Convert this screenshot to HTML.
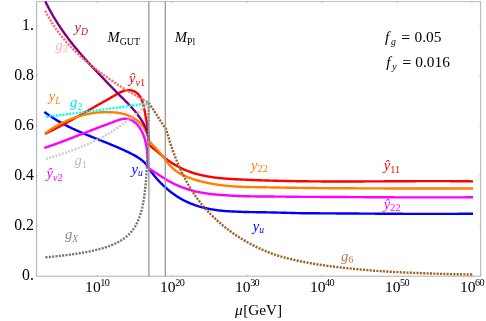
<!DOCTYPE html>
<html><head><meta charset="utf-8"><title>RG running</title>
<style>
html,body{margin:0;padding:0;background:#fff;}
body{width:486px;height:321px;overflow:hidden;position:relative;}
svg{display:block;will-change:transform;}
</style></head><body>
<svg width="486" height="321" viewBox="0 0 486 321" style="position:absolute;left:0;top:0">
<path d="M36.6,1.55V276.2H480.7V1.55" fill="none" stroke="#858585" stroke-width="0.65"/>
<path d="M36.6,1.55H480.7" fill="none" stroke="#999999" stroke-width="0.65"/>
<path d="M36.6,225.80h1.4 M480.7,225.80h-1.4 M36.6,175.80h1.4 M480.7,175.80h-1.4 M36.6,125.80h1.4 M480.7,125.80h-1.4 M36.6,75.80h1.4 M480.7,75.80h-1.4 M36.6,25.80h1.4 M480.7,25.80h-1.4 M97.20,276.2v-1.4 M97.20,1.55v1.4 M172.17,276.2v-1.4 M172.17,1.55v1.4 M247.14,276.2v-1.4 M247.14,1.55v1.4 M322.11,276.2v-1.4 M322.11,1.55v1.4 M397.08,276.2v-1.4 M397.08,1.55v1.4 M472.05,276.2v-1.4 M472.05,1.55v1.4" stroke="#8a8a8a" stroke-width="0.5" fill="none"/>
<path d="M44.37,111.88 L44.78,112.19 L45.18,112.50 L45.59,112.80 L46.00,113.11 L46.41,113.41 L46.82,113.71 L47.24,114.00 L47.65,114.30 L48.07,114.59 L48.48,114.89 L48.90,115.18 L49.31,115.46 L49.73,115.75 L50.15,116.03 L50.57,116.32 L50.99,116.60 L51.41,116.88 L51.84,117.16 L52.26,117.43 L52.68,117.71 L53.11,117.98 L53.54,118.25 L53.96,118.52 L54.39,118.79 L54.82,119.05 L55.25,119.32 L55.68,119.58 L56.11,119.84 L56.54,120.10 L56.97,120.36 L57.41,120.61 L57.84,120.87 L58.28,121.12 L58.71,121.37 L59.15,121.63 L59.58,121.87 L60.02,122.12 L60.46,122.37 L60.90,122.61 L61.34,122.86 L61.78,123.10 L62.22,123.34 L62.66,123.58 L63.11,123.82 L63.55,124.06 L63.99,124.29 L64.44,124.53 L64.88,124.76 L65.33,124.99 L65.78,125.22 L66.22,125.45 L66.67,125.68 L67.12,125.91 L67.57,126.13 L68.02,126.36 L68.47,126.58 L68.92,126.81 L69.37,127.03 L69.82,127.25 L70.27,127.47 L70.72,127.69 L71.18,127.90 L71.63,128.12 L72.09,128.34 L72.54,128.55 L72.99,128.77 L73.45,128.98 L73.91,129.19 L74.36,129.40 L74.82,129.61 L75.28,129.82 L75.74,130.03 L76.19,130.24 L76.65,130.44 L77.11,130.65 L77.57,130.86 L78.03,131.06 L78.49,131.26 L78.95,131.47 L79.41,131.67 L79.87,131.87 L80.34,132.07 L80.80,132.27 L81.26,132.47 L81.72,132.67 L82.19,132.87 L82.65,133.07 L83.11,133.26 L83.58,133.46 L84.04,133.66 L84.51,133.85 L84.97,134.05 L85.44,134.24 L85.90,134.44 L86.37,134.63 L86.83,134.82 L87.30,135.02 L87.76,135.21 L88.23,135.40 L88.70,135.59 L89.16,135.78 L89.63,135.97 L90.10,136.16 L90.57,136.35 L91.03,136.54 L91.50,136.73 L91.97,136.92 L92.44,137.11 L92.90,137.30 L93.37,137.49 L93.84,137.68 L94.31,137.87 L94.78,138.05 L95.25,138.24 L95.71,138.43 L96.18,138.62 L96.65,138.81 L97.12,138.99 L97.59,139.18 L98.06,139.37 L98.53,139.55 L99.00,139.74 L99.47,139.93 L99.93,140.12 L100.40,140.30 L100.87,140.49 L101.34,140.68 L101.81,140.87 L102.28,141.05 L102.75,141.24 L103.22,141.43 L103.69,141.62 L104.15,141.80 L104.62,141.99 L105.09,142.18 L105.56,142.37 L106.03,142.56 L106.50,142.75 L106.96,142.94 L107.43,143.13 L107.90,143.32 L108.37,143.51 L108.83,143.70 L109.30,143.89 L109.77,144.08 L110.23,144.27 L110.70,144.46 L111.17,144.65 L111.63,144.85 L112.10,145.04 L112.57,145.23 L113.03,145.43 L113.50,145.62 L113.96,145.82 L114.43,146.01 L114.89,146.21 L115.36,146.41 L115.82,146.60 L116.28,146.80 L116.75,147.00 L117.21,147.20 L117.67,147.40 L118.14,147.60 L118.60,147.80 L119.06,148.00 L119.52,148.20 L119.98,148.41 L120.44,148.61 L120.90,148.81 L121.36,149.02 L121.82,149.23 L122.28,149.43 L122.74,149.64 L123.20,149.85 L123.66,150.06 L124.12,150.27 L124.57,150.48 L125.03,150.69 L125.49,150.90 L125.94,151.12 L126.40,151.33 L126.85,151.55 L127.31,151.77 L127.76,151.98 L128.21,152.20 L128.67,152.42 L129.12,152.64 L129.57,152.86 L130.02,153.09 L130.47,153.31 L130.92,153.54 L131.37,153.76 L131.82,153.99 L132.27,154.22 L132.71,154.45 L133.16,154.69 L133.60,154.92 L134.04,155.16 L134.48,155.40 L134.92,155.64 L135.36,155.89 L135.79,156.14 L136.22,156.39 L136.65,156.64 L137.08,156.90 L137.50,157.16 L137.93,157.42 L138.34,157.69 L138.76,157.96 L139.17,158.24 L139.58,158.52 L139.99,158.80 L140.39,159.09 L140.79,159.38 L141.18,159.68 L141.57,159.98 L141.96,160.29 L142.34,160.60 L142.72,160.92 L143.09,161.24 L143.46,161.57 L143.82,161.90 L144.18,162.24 L144.54,162.59 L144.89,162.94 L145.23,163.30 L145.57,163.66 L145.90,164.03 L146.23,164.41 L146.55,164.79 L146.87,165.18 L147.18,165.58 L147.48,165.98 L147.78,166.39 L148.07,166.81 L148.35,167.24 L148.63,167.68 L148.90,168.12 L149.16,168.57" fill="none" stroke="#0000ff" stroke-width="2.4"/>
<path d="M148.98,168.85 L149.48,169.53 L149.98,170.22 L150.49,170.90 L151.00,171.57 L151.52,172.25 L152.04,172.92 L152.57,173.59 L153.10,174.25 L153.64,174.92 L154.18,175.58 L154.72,176.23 L155.27,176.89 L155.82,177.54 L156.38,178.18 L156.95,178.83 L157.52,179.47 L158.09,180.10 L158.67,180.73 L159.25,181.36 L159.84,181.98 L160.43,182.60 L161.02,183.21 L161.62,183.82 L162.23,184.42 L162.84,185.02 L163.46,185.61 L164.08,186.20 L164.70,186.78 L165.33,187.36 L165.96,187.93 L166.60,188.50 L167.24,189.06 L167.89,189.61 L168.54,190.16 L169.20,190.70 L169.86,191.24 L170.53,191.76 L171.20,192.29 L171.88,192.80 L172.56,193.31 L173.24,193.81 L173.93,194.31 L174.63,194.79 L175.33,195.27 L176.03,195.74 L176.74,196.21 L177.45,196.67 L178.17,197.12 L178.89,197.56 L179.62,198.00 L180.34,198.43 L181.08,198.86 L181.81,199.27 L182.55,199.68 L183.30,200.08 L184.04,200.48 L184.79,200.87 L185.55,201.23 L186.30,201.59 L187.06,201.94 L187.83,202.28 L188.59,202.62 L189.36,202.95 L190.13,203.27 L190.91,203.58 L191.68,203.89 L192.46,204.19 L193.25,204.48 L194.03,204.77 L194.82,205.05 L195.60,205.32 L196.40,205.58 L197.19,205.84 L197.98,206.09 L198.78,206.34 L199.58,206.57 L200.38,206.80 L201.18,207.03 L201.98,207.25 L202.79,207.46 L203.59,207.66 L204.40,207.86 L205.21,208.05 L206.02,208.24 L206.84,208.42 L207.65,208.59 L208.47,208.76 L209.28,208.92 L210.10,209.08 L210.92,209.23 L211.74,209.37 L212.57,209.51 L213.39,209.65 L214.22,209.78 L215.05,209.90 L215.87,210.02 L216.70,210.14 L217.53,210.25 L218.37,210.35 L219.20,210.45 L220.03,210.55 L220.87,210.64 L221.71,210.72 L222.54,210.80 L223.38,210.88 L224.22,210.96 L225.06,211.03 L225.90,211.09 L226.75,211.15 L227.59,211.21 L228.43,211.26 L229.28,211.31 L230.12,211.36 L230.97,211.40 L231.82,211.44 L232.67,211.48 L233.52,211.51 L234.37,211.54 L235.22,211.57 L236.07,211.60 L236.92,211.65 L237.77,211.69 L238.62,211.73 L239.48,211.77 L240.33,211.81 L241.19,211.85 L242.04,211.88 L242.90,211.91 L243.75,211.94 L244.61,211.97 L245.46,211.99 L246.32,212.02 L247.18,212.04 L248.04,212.06 L248.89,212.07 L249.75,212.09 L250.61,212.11 L251.47,212.12 L252.33,212.13 L253.18,212.14 L254.04,212.15 L254.90,212.16 L255.76,212.17 L256.62,212.18 L257.48,212.19 L258.34,212.19 L259.20,212.20 L260.06,212.21 L260.92,212.21 L261.77,212.22 L262.63,212.23 L263.49,212.25 L264.35,212.27 L265.21,212.29 L266.06,212.31 L266.92,212.33 L267.78,212.35 L268.64,212.37 L269.49,212.39 L270.35,212.41 L271.21,212.43 L272.06,212.45 L272.92,212.47 L273.77,212.49 L274.63,212.52 L275.49,212.54 L276.34,212.56 L277.20,212.58 L278.05,212.60 L278.90,212.62 L279.76,212.64 L280.61,212.67 L281.47,212.69 L282.32,212.71 L283.17,212.73 L284.03,212.75 L284.88,212.78 L285.73,212.80 L286.59,212.82 L287.44,212.85 L288.29,212.87 L289.14,212.89 L290.00,212.91 L290.85,212.94 L291.70,212.96 L292.55,212.98 L293.40,213.01 L294.25,213.03 L295.10,213.05 L295.96,213.08 L296.81,213.10 L297.66,213.13 L298.51,213.15 L299.36,213.17 L300.21,213.20 L301.06,213.22 L301.91,213.25 L302.76,213.25 L303.61,213.25 L304.46,213.26 L305.31,213.26 L306.15,213.26 L307.00,213.27 L307.85,213.27 L308.70,213.28 L309.55,213.28 L310.40,213.28 L311.25,213.29 L312.09,213.29 L312.94,213.29 L313.79,213.30 L314.64,213.30 L315.49,213.31 L316.33,213.31 L317.18,213.32 L318.03,213.32 L318.87,213.32 L319.72,213.33 L320.57,213.33 L321.42,213.34 L322.26,213.34 L323.11,213.35 L323.96,213.35 L324.80,213.36 L325.65,213.36 L326.49,213.37 L327.34,213.37 L328.19,213.38 L329.03,213.38 L329.88,213.39 L330.72,213.39 L331.57,213.40 L332.42,213.40 L333.26,213.41 L334.11,213.41 L334.95,213.42 L335.80,213.42 L336.64,213.43 L337.49,213.43 L338.33,213.44 L339.18,213.44 L340.02,213.45 L340.87,213.45 L341.71,213.46 L342.56,213.47 L343.40,213.47 L344.25,213.48 L345.09,213.48 L345.93,213.49 L346.78,213.49 L347.62,213.50 L348.47,213.50 L349.31,213.51 L350.16,213.52 L351.00,213.52 L351.84,213.53 L352.69,213.53 L353.53,213.54 L354.38,213.54 L355.22,213.55 L356.06,213.55 L356.91,213.56 L357.75,213.57 L358.60,213.57 L359.44,213.58 L360.28,213.58 L361.13,213.59 L361.97,213.59 L362.82,213.60 L363.66,213.60 L364.50,213.61 L365.35,213.62 L366.19,213.62 L367.03,213.63 L367.88,213.63 L368.72,213.64 L369.57,213.64 L370.41,213.65 L371.25,213.65 L372.10,213.66 L372.94,213.66 L373.78,213.67 L374.63,213.67 L375.47,213.68 L376.31,213.68 L377.16,213.69 L378.00,213.70 L378.85,213.70 L379.69,213.71 L380.53,213.71 L381.38,213.72 L382.22,213.72 L383.06,213.72 L383.91,213.73 L384.75,213.73 L385.60,213.74 L386.44,213.74 L387.28,213.75 L388.13,213.75 L388.97,213.76 L389.82,213.76 L390.66,213.77 L391.50,213.77 L392.35,213.78 L393.19,213.78 L394.04,213.78 L394.88,213.79 L395.73,213.79 L396.57,213.80 L397.42,213.80 L398.26,213.80 L399.10,213.81 L399.95,213.81 L400.79,213.81 L401.64,213.82 L402.48,213.82 L403.33,213.83 L404.17,213.83 L405.02,213.83 L405.86,213.83 L406.71,213.84 L407.55,213.84 L408.40,213.84 L409.25,213.85 L410.09,213.85 L410.94,213.85 L411.78,213.85 L412.63,213.86 L413.47,213.86 L414.32,213.86 L415.17,213.86 L416.01,213.87 L416.86,213.87 L417.71,213.87 L418.55,213.87 L419.40,213.87 L420.25,213.88 L421.09,213.88 L421.94,213.88 L422.79,213.88 L423.63,213.88 L424.48,213.88 L425.33,213.88 L426.18,213.88 L427.02,213.88 L427.87,213.89 L428.72,213.89 L429.57,213.89 L430.42,213.89 L431.26,213.89 L432.11,213.89 L432.96,213.89 L433.81,213.89 L434.66,213.89 L435.51,213.89 L436.36,213.89 L437.21,213.88 L438.06,213.88 L438.90,213.88 L439.75,213.88 L440.60,213.88 L441.45,213.88 L442.30,213.88 L443.15,213.88 L444.01,213.87 L444.86,213.87 L445.71,213.87 L446.56,213.87 L447.41,213.87 L448.26,213.86 L449.11,213.86 L449.96,213.86 L450.81,213.86 L451.67,213.85 L452.52,213.85 L453.37,213.85 L454.22,213.84 L455.08,213.84 L455.93,213.83 L456.78,213.83 L457.64,213.83 L458.49,213.82 L459.34,213.82 L460.20,213.81 L461.05,213.81 L461.90,213.80 L462.76,213.80 L463.61,213.79 L464.47,213.79 L465.32,213.78 L466.18,213.78 L467.03,213.77 L467.89,213.76 L468.74,213.76 L469.60,213.75 L470.46,213.74 L471.31,213.74 L472.17,213.73 L473.03,213.72" fill="none" stroke="#0000ff" stroke-width="2.4"/>
<path d="M44.96,133.91 L45.57,133.61 L46.18,133.31 L46.78,133.00 L47.39,132.70 L47.99,132.39 L48.60,132.09 L49.20,131.78 L49.79,131.47 L50.39,131.18 L50.99,130.88 L51.58,130.59 L52.17,130.30 L52.76,130.00 L53.35,129.70 L53.94,129.41 L54.53,129.11 L55.12,128.81 L55.70,128.51 L56.28,128.21 L56.86,127.91 L57.45,127.61 L58.02,127.31 L58.60,127.01 L59.18,126.71 L59.76,126.40 L60.33,126.10 L60.91,125.80 L61.48,125.49 L62.05,125.19 L62.62,124.88 L63.19,124.57 L63.76,124.27 L64.33,123.96 L64.90,123.65 L65.46,123.34 L66.03,123.03 L66.60,122.72 L67.16,122.41 L67.72,122.10 L68.29,121.79 L68.85,121.48 L69.41,121.17 L69.97,120.86 L70.53,120.55 L71.10,120.24 L71.66,119.92 L72.22,119.61 L72.77,119.30 L73.33,118.98 L73.89,118.67 L74.45,118.36 L75.01,118.04 L75.57,117.73 L76.12,117.41 L76.68,117.10 L77.24,116.78 L77.80,116.47 L78.35,116.15 L78.91,115.84 L79.47,115.52 L80.02,115.21 L80.58,114.89 L81.14,114.57 L81.70,114.26 L82.25,113.94 L82.81,113.63 L83.37,113.31 L83.93,112.99 L84.48,112.68 L85.04,112.36 L85.60,112.05 L86.16,111.73 L86.72,111.41 L87.28,111.10 L87.84,110.78 L88.40,110.47 L88.96,110.15 L89.52,109.84 L90.08,109.52 L90.65,109.19 L91.21,108.86 L91.77,108.53 L92.34,108.20 L92.90,107.87 L93.47,107.54 L94.04,107.21 L94.60,106.88 L95.17,106.55 L95.74,106.22 L96.31,105.89 L96.88,105.56 L97.45,105.24 L98.03,104.91 L98.60,104.58 L99.18,104.25 L99.75,103.93 L100.33,103.60 L100.91,103.27 L101.49,102.95 L102.07,102.62 L102.65,102.30 L103.23,101.97 L103.82,101.65 L104.40,101.33 L104.99,101.00 L105.58,100.68 L106.17,100.36 L106.76,100.04 L107.35,99.72 L107.94,99.40 L108.54,99.04 L109.14,98.68 L109.73,98.32 L110.33,97.96 L110.94,97.60 L111.54,97.24 L112.14,96.88 L112.75,96.53 L113.36,96.17 L113.97,95.81 L114.58,95.46 L115.20,95.10 L115.81,94.75 L116.43,94.40 L117.05,94.05 L117.67,93.71 L118.29,93.38 L118.91,93.05 L119.53,92.74 L120.15,92.43 L120.77,92.13 L121.40,91.85 L122.02,91.58 L122.64,91.32 L123.26,91.08 L123.88,90.86 L124.50,90.68 L125.12,90.54 L125.74,90.41 L126.36,90.31 L126.97,90.22 L127.59,90.16 L128.20,90.12 L128.81,90.11 L129.42,90.13 L130.02,90.17 L130.63,90.24 L131.23,90.34 L131.82,90.47 L132.42,90.63 L133.01,90.83 L133.60,91.05 L134.17,91.31 L134.74,91.59 L135.29,91.90 L135.83,92.24 L136.36,92.60 L136.87,92.99 L137.35,93.40 L137.82,93.83 L138.26,94.29 L138.69,94.77 L139.09,95.26 L139.47,95.78 L139.84,96.32 L140.19,96.87 L140.52,97.43 L140.83,98.01 L141.13,98.61 L141.41,99.22 L141.67,99.84 L141.93,100.47 L142.17,101.11 L142.40,101.75 L142.61,102.41 L142.82,103.07 L143.01,103.74 L143.20,104.41 L143.37,105.09 L143.54,105.77 L143.70,106.45 L143.86,107.13 L144.01,107.81 L144.15,108.49 L144.29,109.17 L144.42,109.84 L144.55,110.51 L144.68,111.17 L144.81,111.83 L144.93,112.48 L145.05,113.13 L145.17,113.78 L145.29,114.42 L145.41,115.06 L145.52,115.69 L145.64,116.33 L145.75,116.96 L145.86,117.59 L145.97,118.23 L146.08,118.86 L146.19,119.49 L146.30,120.12 L146.41,120.75 L146.52,121.38 L146.63,122.02 L146.75,122.65 L146.86,123.29 L146.97,123.93 L147.08,124.57 L147.19,125.21 L147.29,125.85 L147.40,126.49 L147.51,127.14 L147.61,127.79 L147.71,128.43 L147.81,129.08 L147.91,129.73 L148.00,130.38 L148.09,131.03 L148.18,131.69 L148.26,132.34 L148.34,133.00 L148.42,133.65 L148.49,134.31 L148.56,134.96 L148.62,135.62 L148.67,136.28 L148.73,136.94 L148.77,137.60 L148.81,138.26 L148.85,138.92 L148.87,139.58 L148.89,140.24 L148.91,140.90 L148.92,141.56 L148.92,142.23 L148.91,142.89 L148.89,143.55 L148.87,144.21" fill="none" stroke="#ff0000" stroke-width="2.4"/>
<path d="M148.71,144.66 L149.37,145.16 L150.03,145.66 L150.69,146.17 L151.35,146.67 L152.01,147.18 L152.66,147.69 L153.32,148.21 L153.97,148.73 L154.61,149.25 L155.26,149.77 L155.90,150.31 L156.53,150.84 L157.16,151.39 L157.79,151.94 L158.42,152.49 L159.04,153.04 L159.67,153.60 L160.29,154.15 L160.92,154.70 L161.55,155.25 L162.19,155.79 L162.83,156.33 L163.48,156.86 L164.14,157.38 L164.79,157.90 L165.46,158.42 L166.12,158.92 L166.80,159.43 L167.47,159.92 L168.15,160.41 L168.84,160.90 L169.53,161.37 L170.23,161.84 L170.93,162.31 L171.63,162.77 L172.34,163.22 L173.05,163.67 L173.76,164.10 L174.48,164.54 L175.20,164.96 L175.93,165.38 L176.66,165.79 L177.39,166.20 L178.13,166.60 L178.87,166.99 L179.61,167.37 L180.36,167.75 L181.11,168.12 L181.86,168.48 L182.62,168.84 L183.38,169.19 L184.14,169.53 L184.90,169.86 L185.67,170.18 L186.43,170.50 L187.20,170.81 L187.98,171.11 L188.75,171.41 L189.53,171.70 L190.31,171.98 L191.09,172.25 L191.88,172.51 L192.66,172.77 L193.45,173.02 L194.24,173.27 L195.03,173.50 L195.82,173.73 L196.62,173.96 L197.42,174.18 L198.22,174.39 L199.02,174.59 L199.82,174.79 L200.62,174.99 L201.43,175.17 L202.24,175.35 L203.05,175.53 L203.86,175.70 L204.67,175.87 L205.48,176.03 L206.30,176.18 L207.12,176.33 L207.93,176.48 L208.75,176.62 L209.57,176.75 L210.39,176.88 L211.22,177.01 L212.04,177.13 L212.87,177.25 L213.69,177.36 L214.52,177.47 L215.35,177.58 L216.18,177.68 L217.01,177.78 L217.84,177.87 L218.67,177.96 L219.50,178.05 L220.34,178.13 L221.17,178.21 L222.01,178.29 L222.84,178.37 L223.68,178.44 L224.52,178.51 L225.35,178.58 L226.19,178.64 L227.03,178.70 L227.87,178.77 L228.71,178.82 L229.55,178.88 L230.39,178.93 L231.23,178.99 L232.07,179.04 L232.91,179.09 L233.75,179.13 L234.59,179.18 L235.44,179.23 L236.28,179.27 L237.12,179.31 L237.96,179.36 L238.80,179.40 L239.64,179.44 L240.49,179.48 L241.33,179.52 L242.17,179.56 L243.01,179.60 L243.85,179.64 L244.69,179.67 L245.53,179.71 L246.37,179.75 L247.21,179.79 L248.05,179.82 L248.90,179.86 L249.74,179.89 L250.58,179.93 L251.42,179.96 L252.26,179.99 L253.10,180.03 L253.94,180.06 L254.78,180.09 L255.62,180.12 L256.46,180.16 L257.30,180.19 L258.13,180.22 L258.97,180.25 L259.81,180.28 L260.65,180.31 L261.49,180.33 L262.33,180.36 L263.17,180.39 L264.01,180.42 L264.85,180.44 L265.69,180.47 L266.53,180.50 L267.36,180.52 L268.20,180.55 L269.04,180.57 L269.88,180.60 L270.72,180.62 L271.56,180.64 L272.39,180.67 L273.23,180.69 L274.07,180.71 L274.91,180.73 L275.75,180.76 L276.58,180.78 L277.42,180.80 L278.26,180.82 L279.10,180.84 L279.93,180.86 L280.77,180.88 L281.61,180.90 L282.45,180.92 L283.28,180.93 L284.12,180.95 L284.96,180.97 L285.79,180.99 L286.63,181.00 L287.47,181.02 L288.30,181.04 L289.14,181.05 L289.98,181.07 L290.81,181.08 L291.65,181.10 L292.49,181.11 L293.32,181.12 L294.16,181.14 L295.00,181.15 L295.83,181.16 L296.67,181.18 L297.51,181.19 L298.34,181.20 L299.18,181.21 L300.01,181.23 L300.85,181.24 L301.69,181.25 L302.52,181.26 L303.36,181.27 L304.19,181.28 L305.03,181.29 L305.86,181.30 L306.70,181.31 L307.54,181.32 L308.37,181.32 L309.21,181.33 L310.04,181.34 L310.88,181.35 L311.71,181.36 L312.55,181.36 L313.38,181.37 L314.22,181.38 L315.05,181.38 L315.89,181.39 L316.72,181.40 L317.56,181.40 L318.39,181.41 L319.23,181.41 L320.07,181.42 L320.90,181.42 L321.73,181.43 L322.57,181.43 L323.40,181.44 L324.24,181.44 L325.07,181.44 L325.91,181.45 L326.74,181.45 L327.58,181.45 L328.41,181.46 L329.25,181.46 L330.08,181.46 L330.92,181.46 L331.75,181.47 L332.59,181.47 L333.42,181.47 L334.26,181.47 L335.09,181.47 L335.92,181.47 L336.76,181.47 L337.59,181.47 L338.43,181.48 L339.26,181.48 L340.10,181.48 L340.93,181.48 L341.77,181.48 L342.60,181.48 L343.43,181.47 L344.27,181.47 L345.10,181.47 L345.94,181.47 L346.77,181.47 L347.60,181.47 L348.44,181.47 L349.27,181.47 L350.11,181.47 L350.94,181.46 L351.78,181.46 L352.61,181.46 L353.44,181.46 L354.28,181.46 L355.11,181.45 L355.95,181.45 L356.78,181.45 L357.62,181.45 L358.45,181.44 L359.28,181.44 L360.12,181.44 L360.95,181.44 L361.79,181.43 L362.62,181.43 L363.45,181.43 L364.29,181.42 L365.12,181.42 L365.96,181.42 L366.79,181.41 L367.63,181.41 L368.46,181.40 L369.29,181.40 L370.13,181.40 L370.96,181.39 L371.80,181.39 L372.63,181.39 L373.46,181.38 L374.30,181.38 L375.13,181.37 L375.97,181.37 L376.80,181.36 L377.64,181.36 L378.47,181.36 L379.30,181.35 L380.14,181.35 L380.97,181.34 L381.81,181.34 L382.64,181.33 L383.48,181.33 L384.31,181.32 L385.15,181.32 L385.98,181.32 L386.81,181.31 L387.65,181.31 L388.48,181.30 L389.32,181.30 L390.15,181.29 L390.99,181.29 L391.82,181.28 L392.66,181.28 L393.49,181.28 L394.33,181.27 L395.16,181.27 L396.00,181.26 L396.83,181.26 L397.67,181.25 L398.50,181.25 L399.34,181.24 L400.17,181.24 L401.01,181.24 L401.84,181.23 L402.68,181.23 L403.51,181.22 L404.35,181.22 L405.18,181.22 L406.02,181.21 L406.85,181.21 L407.69,181.21 L408.52,181.20 L409.36,181.20 L410.19,181.19 L411.03,181.19 L411.86,181.19 L412.70,181.18 L413.53,181.18 L414.37,181.18 L415.21,181.18 L416.04,181.17 L416.88,181.17 L417.71,181.17 L418.55,181.16 L419.39,181.16 L420.22,181.16 L421.06,181.16 L421.89,181.16 L422.73,181.15 L423.57,181.15 L424.40,181.15 L425.24,181.15 L426.07,181.15 L426.91,181.15 L427.75,181.14 L428.58,181.14 L429.42,181.14 L430.26,181.14 L431.09,181.14 L431.93,181.14 L432.77,181.14 L433.60,181.14 L434.44,181.14 L435.28,181.14 L436.12,181.14 L436.95,181.14 L437.79,181.14 L438.63,181.14 L439.46,181.14 L440.30,181.14 L441.14,181.15 L441.98,181.15 L442.81,181.15 L443.65,181.15 L444.49,181.15 L445.33,181.16 L446.17,181.16 L447.00,181.16 L447.84,181.16 L448.68,181.17 L449.52,181.17 L450.36,181.17 L451.19,181.18 L452.03,181.18 L452.87,181.19 L453.71,181.19 L454.55,181.20 L455.39,181.20 L456.23,181.21 L457.07,181.21 L457.90,181.22 L458.74,181.22 L459.58,181.23 L460.42,181.24 L461.26,181.24 L462.10,181.25 L462.94,181.26 L463.78,181.26 L464.62,181.27 L465.46,181.28 L466.30,181.29 L467.14,181.30 L467.98,181.31 L468.82,181.31 L469.66,181.32 L470.50,181.33 L471.34,181.34 L472.18,181.35 L473.02,181.36" fill="none" stroke="#ff0000" stroke-width="2.4"/>
<path d="M45.15,133.34 L45.54,133.05 L45.94,132.75 L46.34,132.46 L46.75,132.17 L47.15,131.87 L47.55,131.58 L47.96,131.30 L48.37,131.01 L48.78,130.72 L49.20,130.44 L49.61,130.15 L50.03,129.87 L50.44,129.60 L50.86,129.33 L51.28,129.06 L51.71,128.79 L52.13,128.53 L52.56,128.26 L52.98,128.00 L53.41,127.74 L53.84,127.48 L54.28,127.22 L54.71,126.96 L55.14,126.71 L55.58,126.46 L56.02,126.20 L56.46,125.95 L56.90,125.70 L57.34,125.46 L57.79,125.21 L58.23,124.97 L58.68,124.73 L59.12,124.49 L59.57,124.25 L60.02,124.01 L60.48,123.78 L60.93,123.54 L61.38,123.31 L61.84,123.08 L62.30,122.85 L62.76,122.63 L63.22,122.40 L63.68,122.18 L64.14,121.96 L64.60,121.74 L65.07,121.53 L65.53,121.31 L66.00,121.10 L66.47,120.89 L66.93,120.69 L67.40,120.48 L67.88,120.28 L68.35,120.07 L68.82,119.88 L69.29,119.68 L69.77,119.48 L70.25,119.29 L70.72,119.10 L71.20,118.91 L71.68,118.73 L72.16,118.54 L72.64,118.36 L73.12,118.18 L73.61,118.01 L74.09,117.83 L74.57,117.66 L75.06,117.49 L75.54,117.32 L76.03,117.16 L76.52,117.00 L77.01,116.84 L77.50,116.68 L77.99,116.53 L78.48,116.37 L78.97,116.22 L79.46,116.08 L79.95,115.93 L80.45,115.79 L80.94,115.65 L81.44,115.52 L81.93,115.38 L82.43,115.25 L82.92,115.13 L83.42,115.00 L83.92,114.88 L84.42,114.76 L84.92,114.64 L85.42,114.53 L85.92,114.42 L86.42,114.31 L86.92,114.20 L87.42,114.10 L87.92,114.00 L88.42,113.91 L88.93,113.81 L89.43,113.72 L89.93,113.63 L90.44,113.54 L90.94,113.45 L91.44,113.35 L91.95,113.27 L92.45,113.18 L92.96,113.10 L93.46,113.02 L93.97,112.95 L94.48,112.88 L94.98,112.81 L95.49,112.74 L96.00,112.68 L96.50,112.62 L97.01,112.57 L97.52,112.51 L98.02,112.47 L98.53,112.42 L99.04,112.38 L99.55,112.34 L100.06,112.30 L100.56,112.27 L101.07,112.24 L101.58,112.22 L102.09,112.20 L102.59,112.18 L103.10,112.17 L103.61,112.16 L104.12,112.15 L104.63,112.15 L105.13,112.15 L105.64,112.15 L106.15,112.16 L106.66,112.17 L107.16,112.18 L107.67,112.20 L108.18,112.21 L108.68,112.21 L109.19,112.21 L109.70,112.21 L110.20,112.22 L110.71,112.23 L111.21,112.24 L111.72,112.26 L112.22,112.28 L112.73,112.31 L113.23,112.34 L113.74,112.37 L114.24,112.41 L114.74,112.45 L115.25,112.50 L115.75,112.55 L116.25,112.60 L116.75,112.66 L117.25,112.72 L117.75,112.79 L118.25,112.86 L118.75,112.93 L119.25,113.01 L119.75,113.10 L120.25,113.18 L120.75,113.28 L121.24,113.37 L121.74,113.47 L122.23,113.58 L122.73,113.69 L123.22,113.80 L123.72,113.92 L124.21,114.06 L124.70,114.22 L125.19,114.38 L125.68,114.55 L126.17,114.72 L126.65,114.90 L127.13,115.08 L127.62,115.27 L128.09,115.46 L128.57,115.66 L129.05,115.86 L129.52,116.07 L129.99,116.28 L130.45,116.50 L130.92,116.72 L131.38,116.95 L131.83,117.18 L132.29,117.42 L132.74,117.66 L133.18,117.91 L133.62,118.17 L134.06,118.43 L134.50,118.70 L134.93,118.97 L135.35,119.25 L135.77,119.53 L136.19,119.82 L136.60,120.12 L137.01,120.42 L137.41,120.72 L137.81,121.04 L138.20,121.36 L138.58,121.68 L138.96,122.01 L139.34,122.35 L139.71,122.70 L140.07,123.05 L140.42,123.41 L140.77,123.77 L141.12,124.14 L141.45,124.52 L141.78,124.90 L142.11,125.29 L142.42,125.69 L142.73,126.09 L143.03,126.50 L143.33,126.92 L143.61,127.34 L143.89,127.77 L144.16,128.21 L144.43,128.65 L144.68,129.10 L144.93,129.56 L145.17,130.02 L145.41,130.49 L145.64,130.96 L145.86,131.43 L146.07,131.91 L146.28,132.39 L146.48,132.88 L146.67,133.37 L146.85,133.86 L147.03,134.36 L147.21,134.86 L147.37,135.36 L147.53,135.86 L147.69,136.37 L147.83,136.87 L147.98,137.38 L148.11,137.89 L148.24,138.40 L148.36,138.91 L148.48,139.42 L148.59,139.93 L148.69,140.44" fill="none" stroke="#ff8000" stroke-width="2.4"/>
<path d="M148.72,140.55 L149.27,141.21 L149.83,141.85 L150.39,142.49 L150.95,143.12 L151.53,143.74 L152.10,144.36 L152.68,144.97 L153.27,145.58 L153.85,146.19 L154.43,146.80 L155.02,147.41 L155.60,148.02 L156.19,148.63 L156.77,149.25 L157.35,149.87 L157.92,150.50 L158.49,151.13 L159.05,151.78 L159.61,152.43 L160.16,153.09 L160.70,153.76 L161.25,154.44 L161.78,155.12 L162.32,155.81 L162.85,156.50 L163.38,157.20 L163.91,157.89 L164.44,158.59 L164.97,159.29 L165.50,159.98 L166.03,160.67 L166.57,161.36 L167.11,162.05 L167.66,162.72 L168.21,163.39 L168.77,164.06 L169.33,164.71 L169.90,165.36 L170.48,165.99 L171.07,166.61 L171.67,167.22 L172.28,167.81 L172.90,168.39 L173.53,168.95 L174.17,169.49 L174.83,170.02 L175.49,170.54 L176.17,171.04 L176.86,171.52 L177.55,171.99 L178.26,172.45 L178.97,172.89 L179.69,173.32 L180.43,173.74 L181.17,174.15 L181.91,174.54 L182.67,174.93 L183.43,175.30 L184.19,175.66 L184.97,176.01 L185.74,176.35 L186.53,176.68 L187.31,177.00 L188.11,177.32 L188.90,177.62 L189.70,177.92 L190.51,178.21 L191.31,178.49 L192.12,178.76 L192.93,179.03 L193.75,179.29 L194.56,179.55 L195.37,179.80 L196.19,180.04 L197.01,180.28 L197.83,180.52 L198.65,180.75 L199.47,180.97 L200.29,181.19 L201.11,181.40 L201.94,181.61 L202.76,181.82 L203.59,182.01 L204.41,182.21 L205.24,182.40 L206.07,182.58 L206.90,182.76 L207.73,182.93 L208.56,183.10 L209.39,183.27 L210.23,183.43 L211.06,183.59 L211.90,183.74 L212.73,183.89 L213.57,184.03 L214.41,184.17 L215.25,184.31 L216.09,184.44 L216.93,184.57 L217.77,184.70 L218.61,184.82 L219.45,184.94 L220.29,185.05 L221.14,185.16 L221.98,185.27 L222.83,185.37 L223.67,185.47 L224.52,185.56 L225.36,185.66 L226.21,185.75 L227.06,185.84 L227.91,185.92 L228.76,186.00 L229.61,186.08 L230.46,186.15 L231.31,186.21 L232.16,186.28 L233.01,186.34 L233.86,186.39 L234.71,186.45 L235.57,186.50 L236.42,186.55 L237.28,186.59 L238.13,186.64 L238.98,186.68 L239.84,186.72 L240.69,186.76 L241.55,186.80 L242.41,186.83 L243.26,186.86 L244.12,186.89 L244.97,186.92 L245.83,186.95 L246.69,186.98 L247.55,187.00 L248.40,187.02 L249.26,187.04 L250.12,187.06 L250.98,187.08 L251.84,187.10 L252.69,187.12 L253.55,187.13 L254.41,187.15 L255.27,187.16 L256.13,187.17 L256.99,187.18 L257.84,187.19 L258.70,187.20 L259.56,187.21 L260.42,187.22 L261.28,187.23 L262.14,187.24 L263.00,187.26 L263.86,187.28 L264.71,187.30 L265.57,187.31 L266.43,187.33 L267.29,187.35 L268.15,187.36 L269.00,187.38 L269.86,187.40 L270.72,187.41 L271.58,187.43 L272.43,187.45 L273.29,187.46 L274.15,187.48 L275.01,187.49 L275.86,187.51 L276.72,187.52 L277.58,187.54 L278.43,187.55 L279.29,187.57 L280.15,187.58 L281.00,187.60 L281.86,187.61 L282.71,187.63 L283.57,187.64 L284.43,187.65 L285.28,187.67 L286.14,187.68 L286.99,187.70 L287.85,187.71 L288.71,187.72 L289.56,187.74 L290.42,187.75 L291.27,187.76 L292.13,187.77 L292.98,187.79 L293.84,187.80 L294.69,187.81 L295.55,187.82 L296.40,187.84 L297.26,187.85 L298.11,187.86 L298.97,187.87 L299.82,187.88 L300.68,187.89 L301.53,187.91 L302.39,187.92 L303.24,187.93 L304.09,187.94 L304.95,187.95 L305.80,187.95 L306.66,187.96 L307.51,187.97 L308.36,187.98 L309.22,187.99 L310.07,188.00 L310.92,188.01 L311.78,188.02 L312.63,188.03 L313.49,188.04 L314.34,188.04 L315.19,188.05 L316.05,188.06 L316.90,188.07 L317.75,188.08 L318.61,188.08 L319.46,188.09 L320.31,188.10 L321.16,188.11 L322.02,188.11 L322.87,188.12 L323.72,188.13 L324.58,188.14 L325.43,188.14 L326.28,188.15 L327.13,188.16 L327.99,188.16 L328.84,188.17 L329.69,188.18 L330.54,188.18 L331.40,188.19 L332.25,188.19 L333.10,188.20 L333.95,188.21 L334.81,188.21 L335.66,188.22 L336.51,188.22 L337.36,188.23 L338.21,188.23 L339.07,188.24 L339.92,188.25 L340.77,188.25 L341.62,188.26 L342.48,188.26 L343.33,188.27 L344.18,188.27 L345.03,188.28 L345.88,188.28 L346.73,188.28 L347.59,188.29 L348.44,188.29 L349.29,188.30 L350.14,188.30 L350.99,188.31 L351.85,188.31 L352.70,188.32 L353.55,188.32 L354.40,188.32 L355.25,188.33 L356.10,188.33 L356.96,188.33 L357.81,188.34 L358.66,188.34 L359.51,188.35 L360.36,188.35 L361.21,188.35 L362.06,188.36 L362.92,188.36 L363.77,188.36 L364.62,188.37 L365.47,188.37 L366.32,188.37 L367.17,188.37 L368.03,188.38 L368.88,188.38 L369.73,188.38 L370.58,188.39 L371.43,188.39 L372.28,188.39 L373.13,188.39 L373.99,188.40 L374.84,188.40 L375.69,188.40 L376.54,188.40 L377.39,188.41 L378.24,188.41 L379.09,188.41 L379.95,188.41 L380.80,188.41 L381.65,188.42 L382.50,188.42 L383.35,188.42 L384.20,188.42 L385.06,188.42 L385.91,188.43 L386.76,188.43 L387.61,188.43 L388.46,188.43 L389.31,188.43 L390.17,188.43 L391.02,188.43 L391.87,188.44 L392.72,188.44 L393.57,188.44 L394.42,188.44 L395.28,188.44 L396.13,188.44 L396.98,188.44 L397.83,188.45 L398.68,188.45 L399.54,188.45 L400.39,188.45 L401.24,188.45 L402.09,188.45 L402.94,188.45 L403.80,188.45 L404.65,188.46 L405.50,188.46 L406.35,188.46 L407.20,188.46 L408.06,188.46 L408.91,188.46 L409.76,188.46 L410.61,188.46 L411.47,188.46 L412.32,188.46 L413.17,188.46 L414.02,188.47 L414.88,188.47 L415.73,188.47 L416.58,188.47 L417.44,188.47 L418.29,188.47 L419.14,188.47 L419.99,188.47 L420.85,188.47 L421.70,188.47 L422.55,188.47 L423.41,188.47 L424.26,188.47 L425.11,188.48 L425.97,188.48 L426.82,188.48 L427.67,188.48 L428.53,188.48 L429.38,188.48 L430.23,188.48 L431.09,188.48 L431.94,188.48 L432.80,188.48 L433.65,188.48 L434.50,188.48 L435.36,188.48 L436.21,188.48 L437.07,188.48 L437.92,188.49 L438.77,188.49 L439.63,188.49 L440.48,188.49 L441.34,188.49 L442.19,188.49 L443.05,188.49 L443.90,188.49 L444.76,188.49 L445.61,188.49 L446.47,188.49 L447.32,188.49 L448.18,188.50 L449.03,188.50 L449.89,188.50 L450.74,188.50 L451.60,188.50 L452.45,188.50 L453.31,188.50 L454.16,188.50 L455.02,188.50 L455.88,188.50 L456.73,188.51 L457.59,188.51 L458.44,188.51 L459.30,188.51 L460.16,188.51 L461.01,188.51 L461.87,188.51 L462.73,188.51 L463.58,188.51 L464.44,188.52 L465.30,188.52 L466.15,188.52 L467.01,188.52 L467.87,188.52 L468.72,188.52 L469.58,188.53 L470.44,188.53 L471.30,188.53 L472.16,188.53 L473.01,188.53" fill="none" stroke="#ff8000" stroke-width="2.4"/>
<path d="M44.28,147.97 L44.86,147.77 L45.45,147.57 L46.03,147.37 L46.61,147.17 L47.19,146.96 L47.77,146.76 L48.35,146.55 L48.93,146.34 L49.50,146.13 L50.08,145.92 L50.66,145.73 L51.23,145.54 L51.80,145.34 L52.38,145.14 L52.95,144.94 L53.52,144.75 L54.09,144.55 L54.66,144.34 L55.23,144.14 L55.80,143.94 L56.37,143.74 L56.94,143.53 L57.51,143.33 L58.07,143.12 L58.64,142.91 L59.21,142.71 L59.77,142.50 L60.34,142.29 L60.90,142.08 L61.47,141.87 L62.03,141.66 L62.59,141.45 L63.15,141.24 L63.72,141.02 L64.28,140.81 L64.84,140.60 L65.40,140.38 L65.96,140.17 L66.52,139.96 L67.08,139.74 L67.64,139.52 L68.20,139.31 L68.76,139.09 L69.32,138.88 L69.88,138.66 L70.44,138.44 L71.00,138.22 L71.55,138.01 L72.11,137.79 L72.67,137.57 L73.23,137.35 L73.79,137.14 L74.34,136.92 L74.90,136.70 L75.46,136.48 L76.02,136.26 L76.57,136.04 L77.13,135.83 L77.69,135.61 L78.25,135.39 L78.81,135.17 L79.36,134.95 L79.92,134.73 L80.48,134.52 L81.04,134.30 L81.60,134.08 L82.15,133.86 L82.71,133.65 L83.27,133.43 L83.83,133.21 L84.39,133.00 L84.95,132.78 L85.51,132.57 L86.07,132.35 L86.63,132.14 L87.19,131.92 L87.75,131.71 L88.31,131.50 L88.87,131.28 L89.44,131.07 L90.00,130.86 L90.56,130.63 L91.12,130.40 L91.69,130.18 L92.25,129.95 L92.82,129.73 L93.38,129.50 L93.95,129.28 L94.51,129.05 L95.08,128.83 L95.65,128.61 L96.22,128.39 L96.78,128.17 L97.35,127.95 L97.92,127.73 L98.49,127.51 L99.07,127.30 L99.64,127.08 L100.21,126.86 L100.78,126.65 L101.36,126.44 L101.93,126.23 L102.51,126.01 L103.08,125.81 L103.66,125.60 L104.24,125.39 L104.82,125.18 L105.40,124.98 L105.98,124.77 L106.56,124.57 L107.14,124.37 L107.72,124.17 L108.31,123.95 L108.89,123.70 L109.48,123.46 L110.07,123.22 L110.65,122.99 L111.24,122.75 L111.83,122.51 L112.42,122.28 L113.02,122.05 L113.61,121.82 L114.20,121.59 L114.80,121.36 L115.40,121.13 L115.99,120.91 L116.59,120.69 L117.19,120.48 L117.79,120.27 L118.38,120.07 L118.98,119.88 L119.58,119.70 L120.17,119.53 L120.77,119.37 L121.36,119.22 L121.95,119.08 L122.54,118.96 L123.13,118.85 L123.72,118.76 L124.30,118.71 L124.88,118.70 L125.46,118.71 L126.04,118.73 L126.61,118.78 L127.18,118.85 L127.74,118.94 L128.31,119.05 L128.86,119.19 L129.42,119.35 L129.96,119.53 L130.50,119.73 L131.04,119.96 L131.57,120.20 L132.08,120.47 L132.60,120.75 L133.10,121.05 L133.59,121.38 L134.08,121.71 L134.55,122.07 L135.01,122.44 L135.47,122.83 L135.91,123.23 L136.35,123.65 L136.78,124.08 L137.19,124.53 L137.60,124.99 L138.00,125.46 L138.39,125.94 L138.77,126.43 L139.14,126.94 L139.50,127.45 L139.85,127.98 L140.19,128.51 L140.52,129.05 L140.85,129.60 L141.16,130.16 L141.46,130.72 L141.76,131.29 L142.05,131.86 L142.33,132.44 L142.60,133.03 L142.86,133.62 L143.11,134.21 L143.35,134.80 L143.58,135.40 L143.81,135.99 L144.02,136.59 L144.23,137.19 L144.43,137.79 L144.62,138.39 L144.80,138.98 L144.97,139.58 L145.13,140.17 L145.29,140.77 L145.44,141.36 L145.58,141.95 L145.71,142.54 L145.84,143.13 L145.96,143.72 L146.08,144.31 L146.18,144.89 L146.29,145.48 L146.38,146.07 L146.48,146.66 L146.56,147.24 L146.65,147.83 L146.72,148.42 L146.80,149.00 L146.87,149.59 L146.94,150.18 L147.00,150.76 L147.06,151.35 L147.12,151.94 L147.17,152.53 L147.22,153.12 L147.28,153.71 L147.32,154.30 L147.37,154.90 L147.42,155.49 L147.47,156.09 L147.51,156.68 L147.56,157.28 L147.60,157.88 L147.65,158.48 L147.69,159.08 L147.74,159.69 L147.78,160.29 L147.83,160.90 L147.88,161.51 L147.94,162.12 L147.99,162.73 L148.05,163.35 L148.11,163.97 L148.17,164.59 L148.23,165.21 L148.30,165.84 L148.37,166.47 L148.45,167.10 L148.53,167.73" fill="none" stroke="#ff00ff" stroke-width="2.4"/>
<path d="M148.47,168.26 L149.17,168.69 L149.87,169.11 L150.57,169.54 L151.27,169.98 L151.96,170.42 L152.66,170.86 L153.36,171.30 L154.05,171.75 L154.75,172.20 L155.44,172.65 L156.14,173.10 L156.83,173.56 L157.53,174.01 L158.22,174.47 L158.92,174.92 L159.61,175.38 L160.31,175.83 L161.01,176.28 L161.71,176.73 L162.41,177.18 L163.11,177.63 L163.82,178.07 L164.52,178.52 L165.23,178.95 L165.94,179.39 L166.65,179.82 L167.37,180.24 L168.08,180.66 L168.80,181.08 L169.53,181.48 L170.25,181.89 L170.98,182.28 L171.71,182.67 L172.45,183.05 L173.19,183.43 L173.93,183.79 L174.68,184.15 L175.43,184.51 L176.18,184.85 L176.93,185.19 L177.69,185.52 L178.45,185.85 L179.22,186.17 L179.98,186.48 L180.75,186.79 L181.52,187.08 L182.30,187.38 L183.07,187.66 L183.85,187.94 L184.63,188.22 L185.41,188.49 L186.20,188.75 L186.98,189.01 L187.77,189.26 L188.56,189.50 L189.35,189.74 L190.14,189.98 L190.94,190.21 L191.73,190.43 L192.53,190.65 L193.32,190.86 L194.12,191.07 L194.92,191.28 L195.72,191.46 L196.52,191.63 L197.32,191.81 L198.13,191.97 L198.93,192.13 L199.73,192.29 L200.54,192.44 L201.35,192.59 L202.15,192.73 L202.96,192.87 L203.77,193.01 L204.58,193.14 L205.39,193.27 L206.20,193.39 L207.01,193.51 L207.82,193.62 L208.64,193.73 L209.45,193.84 L210.26,193.94 L211.08,194.04 L211.89,194.13 L212.71,194.23 L213.53,194.31 L214.35,194.40 L215.16,194.48 L215.98,194.56 L216.80,194.63 L217.62,194.70 L218.44,194.77 L219.27,194.83 L220.09,194.89 L220.91,194.95 L221.73,195.01 L222.56,195.06 L223.38,195.11 L224.20,195.16 L225.03,195.20 L225.86,195.24 L226.68,195.30 L227.51,195.37 L228.33,195.43 L229.16,195.49 L229.99,195.54 L230.82,195.60 L231.65,195.65 L232.47,195.70 L233.30,195.74 L234.13,195.79 L234.96,195.83 L235.79,195.87 L236.62,195.91 L237.45,195.95 L238.29,195.98 L239.12,196.02 L239.95,196.05 L240.78,196.08 L241.61,196.11 L242.44,196.14 L243.28,196.16 L244.11,196.19 L244.94,196.21 L245.78,196.23 L246.61,196.25 L247.44,196.27 L248.28,196.29 L249.11,196.31 L249.94,196.32 L250.78,196.34 L251.61,196.35 L252.45,196.37 L253.28,196.38 L254.11,196.39 L254.95,196.40 L255.78,196.41 L256.62,196.43 L257.45,196.44 L258.28,196.44 L259.12,196.45 L259.95,196.46 L260.79,196.47 L261.62,196.48 L262.46,196.49 L263.29,196.49 L264.12,196.50 L264.96,196.50 L265.79,196.51 L266.62,196.51 L267.46,196.52 L268.29,196.53 L269.12,196.53 L269.96,196.54 L270.79,196.54 L271.62,196.55 L272.46,196.56 L273.29,196.56 L274.12,196.57 L274.95,196.58 L275.79,196.58 L276.62,196.59 L277.45,196.60 L278.28,196.60 L279.12,196.61 L279.95,196.62 L280.78,196.63 L281.61,196.63 L282.44,196.64 L283.27,196.65 L284.11,196.66 L284.94,196.66 L285.77,196.67 L286.60,196.68 L287.43,196.69 L288.26,196.70 L289.09,196.70 L289.92,196.71 L290.75,196.72 L291.58,196.73 L292.41,196.74 L293.25,196.75 L294.08,196.75 L294.91,196.76 L295.74,196.77 L296.57,196.78 L297.40,196.79 L298.23,196.80 L299.06,196.81 L299.89,196.82 L300.72,196.83 L301.55,196.83 L302.38,196.84 L303.20,196.84 L304.03,196.85 L304.86,196.85 L305.69,196.85 L306.52,196.86 L307.35,196.86 L308.18,196.86 L309.01,196.87 L309.84,196.87 L310.67,196.87 L311.50,196.88 L312.33,196.88 L313.15,196.89 L313.98,196.89 L314.81,196.89 L315.64,196.90 L316.47,196.90 L317.30,196.91 L318.13,196.91 L318.95,196.91 L319.78,196.92 L320.61,196.92 L321.44,196.93 L322.27,196.93 L323.09,196.93 L323.92,196.94 L324.75,196.94 L325.58,196.95 L326.41,196.95 L327.23,196.96 L328.06,196.96 L328.89,196.97 L329.72,196.97 L330.55,196.97 L331.37,196.98 L332.20,196.98 L333.03,196.99 L333.86,196.99 L334.68,197.00 L335.51,197.00 L336.34,197.01 L337.17,197.01 L337.99,197.02 L338.82,197.02 L339.65,197.03 L340.47,197.03 L341.30,197.04 L342.13,197.04 L342.96,197.05 L343.78,197.05 L344.61,197.06 L345.44,197.06 L346.26,197.07 L347.09,197.07 L347.92,197.08 L348.74,197.08 L349.57,197.09 L350.40,197.09 L351.23,197.10 L352.05,197.10 L352.88,197.10 L353.71,197.11 L354.53,197.11 L355.36,197.12 L356.19,197.12 L357.01,197.13 L357.84,197.13 L358.67,197.14 L359.49,197.14 L360.32,197.15 L361.15,197.15 L361.97,197.16 L362.80,197.16 L363.63,197.17 L364.45,197.17 L365.28,197.18 L366.11,197.18 L366.93,197.19 L367.76,197.19 L368.59,197.20 L369.41,197.20 L370.24,197.21 L371.07,197.21 L371.89,197.22 L372.72,197.22 L373.55,197.22 L374.37,197.23 L375.20,197.23 L376.03,197.24 L376.85,197.24 L377.68,197.25 L378.51,197.25 L379.33,197.26 L380.16,197.26 L380.99,197.26 L381.81,197.27 L382.64,197.27 L383.47,197.28 L384.29,197.28 L385.12,197.29 L385.95,197.29 L386.77,197.29 L387.60,197.30 L388.43,197.30 L389.25,197.31 L390.08,197.31 L390.91,197.31 L391.73,197.32 L392.56,197.32 L393.39,197.32 L394.21,197.33 L395.04,197.33 L395.87,197.33 L396.70,197.34 L397.52,197.34 L398.35,197.34 L399.18,197.35 L400.00,197.35 L400.83,197.35 L401.66,197.36 L402.49,197.36 L403.31,197.36 L404.14,197.37 L404.97,197.37 L405.79,197.37 L406.62,197.37 L407.45,197.38 L408.28,197.38 L409.10,197.38 L409.93,197.38 L410.76,197.39 L411.59,197.39 L412.42,197.39 L413.24,197.39 L414.07,197.40 L414.90,197.40 L415.73,197.40 L416.55,197.40 L417.38,197.40 L418.21,197.40 L419.04,197.41 L419.87,197.41 L420.69,197.41 L421.52,197.41 L422.35,197.41 L423.18,197.41 L424.01,197.41 L424.84,197.41 L425.67,197.41 L426.49,197.42 L427.32,197.42 L428.15,197.42 L428.98,197.42 L429.81,197.42 L430.64,197.42 L431.47,197.42 L432.30,197.42 L433.12,197.42 L433.95,197.42 L434.78,197.42 L435.61,197.42 L436.44,197.42 L437.27,197.42 L438.10,197.41 L438.93,197.41 L439.76,197.41 L440.59,197.41 L441.42,197.41 L442.25,197.41 L443.08,197.41 L443.91,197.41 L444.74,197.41 L445.57,197.40 L446.40,197.40 L447.23,197.40 L448.06,197.40 L448.89,197.40 L449.72,197.39 L450.55,197.39 L451.38,197.39 L452.21,197.39 L453.04,197.38 L453.88,197.38 L454.71,197.38 L455.54,197.37 L456.37,197.37 L457.20,197.37 L458.03,197.36 L458.86,197.36 L459.69,197.36 L460.53,197.35 L461.36,197.35 L462.19,197.34 L463.02,197.34 L463.85,197.33 L464.69,197.33 L465.52,197.32 L466.35,197.32 L467.18,197.31 L468.02,197.31 L468.85,197.30 L469.68,197.30 L470.51,197.29 L471.35,197.29 L472.18,197.28 L473.01,197.27" fill="none" stroke="#ff00ff" stroke-width="2.4"/>
<path d="M45.34,1.44 L45.67,2.11 L46.00,2.79 L46.33,3.46 L46.67,4.13 L47.01,4.80 L47.35,5.47 L47.69,6.13 L48.03,6.80 L48.38,7.46 L48.73,8.12 L49.08,8.78 L49.43,9.43 L49.79,10.09 L50.15,10.74 L50.51,11.39 L50.87,12.04 L51.23,12.69 L51.60,13.33 L51.96,13.98 L52.33,14.62 L52.70,15.26 L53.08,15.90 L53.45,16.54 L53.83,17.17 L54.21,17.81 L54.59,18.44 L54.97,19.07 L55.36,19.70 L55.75,20.33 L56.14,20.95 L56.53,21.58 L56.92,22.20 L57.31,22.82 L57.71,23.44 L58.11,24.06 L58.51,24.68 L58.91,25.29 L59.32,25.90 L59.72,26.52 L60.13,27.13 L60.54,27.74 L60.95,28.34 L61.36,28.95 L61.78,29.56 L62.19,30.16 L62.61,30.76 L63.03,31.36 L63.45,31.96 L63.87,32.56 L64.30,33.16 L64.72,33.75 L65.15,34.34 L65.58,34.94 L66.01,35.53 L66.44,36.12 L66.88,36.71 L67.31,37.30 L67.75,37.88 L68.19,38.47 L68.63,39.05 L69.07,39.63 L69.52,40.21 L69.96,40.79 L70.41,41.37 L70.86,41.95 L71.31,42.53 L71.76,43.10 L72.21,43.68 L72.66,44.25 L73.12,44.82 L73.57,45.39 L74.03,45.96 L74.49,46.53 L74.95,47.10 L75.41,47.67 L75.88,48.23 L76.34,48.80 L76.81,49.36 L77.28,49.92 L77.75,50.48 L78.22,51.04 L78.69,51.60 L79.16,52.16 L79.63,52.72 L80.11,53.28 L80.58,53.83 L81.06,54.39 L81.54,54.94 L82.02,55.49 L82.50,56.05 L82.98,56.60 L83.47,57.15 L83.95,57.70 L84.44,58.25 L84.92,58.79 L85.41,59.34 L85.90,59.89 L86.39,60.43 L86.88,60.98 L87.37,61.52 L87.87,62.07 L88.36,62.61 L88.86,63.15 L89.35,63.69 L89.85,64.23 L90.35,64.77 L90.85,65.31 L91.35,65.85 L91.85,66.39 L92.35,66.92 L92.85,67.46 L93.36,68.00 L93.86,68.53 L94.37,69.07 L94.87,69.60 L95.38,70.13 L95.89,70.67 L96.40,71.20 L96.91,71.73 L97.42,72.26 L97.93,72.79 L98.44,73.32 L98.96,73.85 L99.47,74.38 L99.98,74.91 L100.50,75.46 L101.01,76.01 L101.53,76.56 L102.05,77.10 L102.57,77.65 L103.09,78.20 L103.61,78.75 L104.13,79.29 L104.65,79.84 L105.17,80.38 L105.69,80.93 L106.21,81.48 L106.74,82.02 L107.26,82.56 L107.78,83.11 L108.31,83.65 L108.83,84.20 L109.36,84.74 L109.89,85.28 L110.41,85.83 L110.94,86.37 L111.47,86.91 L112.00,87.46 L112.53,88.00 L113.06,88.54 L113.59,89.08 L114.12,89.62 L114.65,90.17 L115.18,90.71 L115.71,91.25 L116.24,91.79 L116.78,92.33 L117.31,92.87 L117.84,93.42 L118.37,93.96 L118.91,94.50 L119.44,95.04 L119.98,95.58 L120.51,96.10 L121.04,96.62 L121.58,97.14 L122.11,97.67 L122.64,98.19 L123.17,98.71 L123.70,99.23 L124.23,99.76 L124.76,100.28 L125.29,100.81 L125.81,101.33 L126.33,101.86 L126.86,102.39 L127.37,102.92 L127.89,103.45 L128.41,103.99 L128.92,104.52 L129.43,105.06 L129.93,105.60 L130.44,106.14 L130.94,106.68 L131.44,107.22 L131.93,107.77 L132.42,108.31 L132.91,108.86 L133.39,109.42 L133.87,109.97 L134.34,110.53 L134.81,111.09 L135.27,111.65 L135.74,112.22 L136.19,112.78 L136.64,113.35 L137.09,113.93 L137.53,114.51 L137.96,115.09 L138.39,115.67 L138.82,116.26 L139.23,116.85 L139.64,117.44 L140.05,118.03 L140.45,118.59 L140.84,119.16 L141.23,119.73 L141.61,120.30 L141.98,120.88 L142.34,121.46 L142.70,122.05 L143.05,122.65 L143.39,123.25 L143.73,123.85 L144.05,124.46 L144.37,125.07 L144.68,125.69 L144.98,126.32 L145.28,126.95 L145.56,127.59 L145.83,128.23 L146.10,128.88 L146.35,129.54 L146.60,130.20 L146.83,130.87 L147.06,131.55 L147.27,132.23 L147.48,132.92 L147.67,133.61 L147.85,134.31 L148.02,135.02 L148.18,135.76 L148.33,136.49 L148.46,137.24 L148.59,137.99 L148.70,138.75 L148.80,139.51 L148.88,140.28 L148.95,141.06" fill="none" stroke="#800080" stroke-width="2.4"/>
<path d="M45.90,159.00 L46.55,158.80 L47.19,158.60 L47.84,158.39 L48.49,158.19 L49.14,157.98 L49.78,157.78 L50.43,157.58 L51.08,157.38 L51.72,157.19 L52.37,156.99 L53.02,156.79 L53.67,156.59 L54.31,156.39 L54.96,156.19 L55.61,155.98 L56.25,155.78 L56.90,155.57 L57.55,155.36 L58.20,155.16 L58.84,154.95 L59.49,154.73 L60.14,154.52 L60.78,154.31 L61.43,154.09 L62.08,153.88 L62.73,153.66 L63.37,153.44 L64.02,153.22 L64.67,153.00 L65.32,152.78 L65.96,152.56 L66.61,152.33 L67.26,152.10 L67.90,151.88 L68.55,151.65 L69.20,151.42 L69.85,151.18 L70.49,150.95 L71.14,150.72 L71.79,150.48 L72.43,150.24 L73.08,150.00 L73.73,149.76 L74.38,149.52 L75.02,149.27 L75.67,149.03 L76.32,148.78 L76.96,148.53 L77.61,148.28 L78.26,148.03 L78.91,147.77 L79.55,147.52 L80.20,147.26 L80.85,147.00 L81.49,146.74 L82.14,146.48 L82.79,146.21 L83.44,145.95 L84.08,145.68 L84.73,145.41 L85.38,145.14 L86.02,144.87 L86.67,144.59 L87.32,144.31 L87.97,144.04 L88.61,143.75 L89.26,143.47 L89.91,143.19 L90.55,142.89 L91.20,142.59 L91.85,142.28 L92.50,141.98 L93.14,141.67 L93.79,141.36 L94.44,141.05 L95.08,140.73 L95.73,140.42 L96.38,140.10 L97.03,139.78 L97.67,139.45 L98.32,139.13 L98.97,138.80 L99.62,138.47 L100.26,138.14 L100.91,137.80 L101.56,137.46 L102.20,137.12 L102.85,136.78 L103.50,136.44 L104.15,136.09 L104.79,135.74 L105.44,135.38 L106.09,135.03 L106.73,134.67 L107.38,134.31 L108.03,133.94 L108.68,133.55 L109.32,133.14 L109.97,132.74 L110.62,132.33 L111.26,131.92 L111.91,131.51 L112.56,131.09 L113.21,130.67 L113.85,130.25 L114.50,129.82 L115.15,129.39 L115.79,128.96 L116.44,128.53 L117.09,128.09 L117.74,127.65 L118.38,127.20 L119.03,126.75 L119.68,126.30 L120.32,125.84 L120.97,125.38 L121.62,124.92 L122.27,124.45 L122.91,123.98 L123.56,123.51 L124.21,123.04 L124.85,122.59 L125.50,122.13 L126.15,121.67 L126.80,121.21 L127.44,120.75 L128.09,120.27 L128.74,119.80 L129.38,119.32 L130.03,118.84 L130.68,118.35 L131.33,117.85 L131.97,117.36 L132.62,116.85 L133.27,116.35 L133.92,115.83 L134.56,115.32 L135.21,114.80 L135.86,114.27 L136.50,113.74 L137.15,113.20 L137.80,112.65 L138.45,112.11 L139.09,111.55 L139.74,110.99 L140.39,110.43 L141.03,109.85 L141.68,109.28 L142.33,108.69 L142.98,108.10 L143.62,107.51 L144.27,106.91 L144.92,106.30 L145.56,105.68 L146.21,105.06 L146.86,104.43 L147.51,103.79 L148.15,103.15 L148.80,102.50" fill="none" stroke="#cfcfcf" stroke-width="2.4" stroke-dasharray="2.05 1.3"/>
<path d="M45.90,116.80 L46.55,116.72 L47.19,116.65 L47.84,116.57 L48.49,116.49 L49.14,116.42 L49.78,116.34 L50.43,116.26 L51.08,116.19 L51.72,116.11 L52.37,116.03 L53.02,115.95 L53.67,115.88 L54.31,115.80 L54.96,115.72 L55.61,115.64 L56.25,115.57 L56.90,115.49 L57.55,115.41 L58.20,115.33 L58.84,115.25 L59.49,115.17 L60.14,115.10 L60.78,115.02 L61.43,114.94 L62.08,114.86 L62.73,114.78 L63.37,114.70 L64.02,114.62 L64.67,114.54 L65.32,114.46 L65.96,114.38 L66.61,114.30 L67.26,114.22 L67.90,114.14 L68.55,114.06 L69.20,113.98 L69.85,113.90 L70.49,113.82 L71.14,113.74 L71.79,113.66 L72.43,113.58 L73.08,113.50 L73.73,113.42 L74.38,113.34 L75.02,113.26 L75.67,113.17 L76.32,113.09 L76.96,113.01 L77.61,112.93 L78.26,112.85 L78.91,112.76 L79.55,112.68 L80.20,112.60 L80.85,112.52 L81.49,112.43 L82.14,112.35 L82.79,112.27 L83.44,112.19 L84.08,112.10 L84.73,112.02 L85.38,111.94 L86.02,111.85 L86.67,111.77 L87.32,111.69 L87.97,111.60 L88.61,111.52 L89.26,111.43 L89.91,111.35 L90.55,111.27 L91.20,111.18 L91.85,111.10 L92.50,111.01 L93.14,110.93 L93.79,110.84 L94.44,110.76 L95.08,110.67 L95.73,110.59 L96.38,110.50 L97.03,110.41 L97.67,110.33 L98.32,110.24 L98.97,110.16 L99.62,110.07 L100.26,109.98 L100.91,109.90 L101.56,109.81 L102.20,109.72 L102.85,109.64 L103.50,109.55 L104.15,109.46 L104.79,109.38 L105.44,109.29 L106.09,109.20 L106.73,109.11 L107.38,109.03 L108.03,108.94 L108.68,108.85 L109.32,108.76 L109.97,108.67 L110.62,108.58 L111.26,108.50 L111.91,108.41 L112.56,108.32 L113.21,108.23 L113.85,108.14 L114.50,108.05 L115.15,107.96 L115.79,107.87 L116.44,107.78 L117.09,107.69 L117.74,107.60 L118.38,107.51 L119.03,107.42 L119.68,107.33 L120.32,107.24 L120.97,107.15 L121.62,107.06 L122.27,106.97 L122.91,106.88 L123.56,106.78 L124.21,106.69 L124.85,106.60 L125.50,106.51 L126.15,106.42 L126.80,106.32 L127.44,106.23 L128.09,106.14 L128.74,106.05 L129.38,105.95 L130.03,105.86 L130.68,105.77 L131.33,105.68 L131.97,105.58 L132.62,105.49 L133.27,105.40 L133.92,105.30 L134.56,105.21 L135.21,105.11 L135.86,105.02 L136.50,104.92 L137.15,104.83 L137.80,104.74 L138.45,104.64 L139.09,104.55 L139.74,104.45 L140.39,104.35 L141.03,104.26 L141.68,104.16 L142.33,104.07 L142.98,103.97 L143.62,103.88 L144.27,103.78 L144.92,103.68 L145.56,103.59 L146.21,103.49 L146.86,103.39 L147.51,103.29 L148.15,103.20 L148.80,103.10" fill="none" stroke="#00ffff" stroke-width="2.4" stroke-dasharray="2.05 1.3"/>
<path d="M45.31,10.74 L45.57,11.28 L45.83,11.81 L46.10,12.34 L46.37,12.87 L46.64,13.40 L46.91,13.93 L47.18,14.45 L47.46,14.97 L47.74,15.50 L48.02,16.02 L48.30,16.53 L48.59,17.05 L48.88,17.57 L49.17,18.08 L49.46,18.59 L49.75,19.10 L50.05,19.61 L50.35,20.12 L50.65,20.62 L50.95,21.13 L51.26,21.63 L51.57,22.13 L51.88,22.63 L52.19,23.13 L52.50,23.62 L52.82,24.12 L53.14,24.61 L53.46,25.10 L53.78,25.59 L54.10,26.08 L54.43,26.56 L54.76,27.05 L55.09,27.53 L55.42,28.02 L55.75,28.50 L56.09,28.98 L56.43,29.45 L56.77,29.93 L57.11,30.40 L57.46,30.88 L57.80,31.35 L58.15,31.82 L58.50,32.29 L58.85,32.76 L59.20,33.22 L59.56,33.69 L59.92,34.15 L60.28,34.61 L60.64,35.07 L61.00,35.53 L61.36,35.99 L61.73,36.45 L62.10,36.90 L62.47,37.35 L62.84,37.81 L63.21,38.26 L63.59,38.71 L63.96,39.15 L64.34,39.60 L64.72,40.04 L65.10,40.49 L65.48,40.93 L65.87,41.37 L66.26,41.81 L66.64,42.25 L67.03,42.69 L67.42,43.12 L67.82,43.56 L68.21,43.99 L68.61,44.42 L69.00,44.85 L69.40,45.28 L69.80,45.71 L70.20,46.14 L70.61,46.56 L71.01,46.99 L71.42,47.41 L71.83,47.83 L72.23,48.25 L72.65,48.67 L73.06,49.09 L73.47,49.51 L73.88,49.92 L74.30,50.34 L74.72,50.75 L75.14,51.16 L75.56,51.57 L75.98,51.98 L76.40,52.39 L76.82,52.80 L77.25,53.20 L77.68,53.61 L78.10,54.01 L78.53,54.41 L78.96,54.82 L79.39,55.22 L79.83,55.62 L80.26,56.01 L80.69,56.41 L81.13,56.81 L81.57,57.20 L82.01,57.59 L82.45,57.99 L82.89,58.38 L83.33,58.77 L83.77,59.16 L84.22,59.54 L84.66,59.93 L85.11,60.32 L85.55,60.70 L86.00,61.09 L86.45,61.47 L86.90,61.85 L87.35,62.23 L87.80,62.61 L88.26,62.99 L88.71,63.37 L89.17,63.74 L89.62,64.12 L90.08,64.49 L90.54,64.87 L90.99,65.24 L91.45,65.61 L91.91,65.98 L92.37,66.35 L92.84,66.72 L93.30,67.09 L93.76,67.45 L94.23,67.82 L94.69,68.18 L95.16,68.55 L95.62,68.91 L96.09,69.27 L96.56,69.63 L97.03,69.99 L97.50,70.35 L97.97,70.71 L98.44,71.07 L98.91,71.42 L99.38,71.78 L99.86,72.13 L100.33,72.49 L100.81,72.84 L101.28,73.19 L101.76,73.54 L102.23,73.89 L102.71,74.24 L103.19,74.59 L103.67,74.94 L104.14,75.29 L104.62,75.63 L105.10,75.98 L105.58,76.32 L106.07,76.66 L106.55,77.00 L107.03,77.35 L107.51,77.69 L108.00,78.02 L108.48,78.36 L108.97,78.70 L109.45,79.04 L109.94,79.37 L110.42,79.71 L110.91,80.04 L111.40,80.38 L111.89,80.71 L112.38,81.04 L112.87,81.37 L113.36,81.70 L113.85,82.03 L114.34,82.36 L114.83,82.68 L115.32,83.01 L115.81,83.33 L116.31,83.66 L116.80,83.98 L117.29,84.30 L117.79,84.63 L118.28,84.95 L118.78,85.27 L119.27,85.59 L119.77,85.90 L120.27,86.22 L120.76,86.54 L121.26,86.85 L121.76,87.17 L122.26,87.48 L122.76,87.79 L123.25,88.11 L123.75,88.42 L124.25,88.73 L124.76,89.04 L125.26,89.34 L125.76,89.65 L126.26,89.96 L126.76,90.27 L127.26,90.57 L127.77,90.87 L128.27,91.18 L128.77,91.48 L129.28,91.78 L129.78,92.08 L130.29,92.38 L130.79,92.68 L131.30,92.98 L131.80,93.28 L132.31,93.57 L132.81,93.87 L133.32,94.16 L133.83,94.46 L134.34,94.75 L134.84,95.04 L135.35,95.33 L135.86,95.62 L136.37,95.91 L136.88,96.20 L137.39,96.49 L137.89,96.78 L138.40,97.06 L138.91,97.35 L139.42,97.63 L139.93,97.92 L140.44,98.20 L140.96,98.48 L141.47,98.76 L141.98,99.04 L142.49,99.32 L143.00,99.60 L143.51,99.88 L144.03,100.15 L144.54,100.43 L145.05,100.70 L145.56,100.98 L146.08,101.25 L146.59,101.52 L147.10,101.80 L147.62,102.07 L148.13,102.34 L148.64,102.61" fill="none" stroke="#ff6666" stroke-width="2.4" stroke-dasharray="2.05 1.3"/>
<path d="M45.50,257.30 L46.13,257.24 L46.77,257.18 L47.40,257.12 L48.04,257.06 L48.67,257.01 L49.31,256.95 L49.94,256.89 L50.57,256.82 L51.21,256.76 L51.84,256.70 L52.48,256.64 L53.11,256.58 L53.74,256.51 L54.38,256.45 L55.01,256.38 L55.65,256.32 L56.28,256.25 L56.92,256.18 L57.55,256.11 L58.18,256.05 L58.82,255.98 L59.45,255.91 L60.09,255.84 L60.72,255.76 L61.36,255.69 L61.99,255.62 L62.62,255.55 L63.26,255.47 L63.89,255.40 L64.53,255.32 L65.16,255.24 L65.80,255.16 L66.43,255.08 L67.06,255.00 L67.70,254.92 L68.33,254.84 L68.97,254.76 L69.60,254.68 L70.23,254.59 L70.87,254.51 L71.50,254.42 L72.14,254.33 L72.77,254.24 L73.41,254.15 L74.04,254.06 L74.67,253.97 L75.31,253.88 L75.94,253.78 L76.58,253.69 L77.21,253.59 L77.85,253.49 L78.48,253.39 L79.11,253.29 L79.75,253.19 L80.38,253.08 L81.02,252.98 L81.65,252.87 L82.29,252.77 L82.92,252.66 L83.55,252.54 L84.19,252.43 L84.82,252.32 L85.46,252.20 L86.09,252.08 L86.72,251.96 L87.36,251.84 L87.99,251.72 L88.63,251.59 L89.26,251.47 L89.90,251.34 L90.53,251.21 L91.16,251.07 L91.80,250.94 L92.43,250.80 L93.07,250.66 L93.70,250.52 L94.34,250.37 L94.97,250.23 L95.60,250.08 L96.24,249.92 L96.87,249.77 L97.51,249.61 L98.14,249.45 L98.78,249.29 L99.41,249.12 L100.04,248.95 L100.68,248.78 L101.31,248.60 L101.95,248.42 L102.58,248.24 L103.21,248.05 L103.85,247.86 L104.48,247.66 L105.12,247.46 L105.75,247.26 L106.39,247.05 L107.02,246.84 L107.65,246.62 L108.29,246.40 L108.92,246.17 L109.56,245.94 L110.19,245.70 L110.83,245.45 L111.46,245.20 L112.09,244.95 L112.73,244.69 L113.36,244.42 L114.00,244.14 L114.63,243.85 L115.27,243.56 L115.90,243.26 L116.53,242.95 L117.17,242.64 L117.80,242.31 L118.44,241.97 L119.07,241.63 L119.70,241.27 L120.34,240.90 L120.97,240.52 L121.61,240.12 L122.24,239.72 L122.88,239.29 L123.51,238.86 L124.14,238.41 L124.78,237.94 L125.41,237.45 L126.05,236.94 L126.68,236.41 L127.32,235.87 L127.95,235.29 L128.58,234.69 L129.22,234.07 L129.85,233.41 L130.49,232.73 L131.12,232.01 L131.76,231.25 L132.39,230.45 L133.02,229.61 L133.66,228.72 L134.29,227.78 L134.93,226.77 L135.56,225.70 L136.19,224.56 L136.83,223.34 L137.46,222.03 L138.10,220.61 L138.73,219.07 L139.37,217.40 L140.00,215.58 L140.02,215.51 L140.04,215.44 L140.07,215.38 L140.09,215.31 L140.11,215.24 L140.13,215.17 L140.15,215.10 L140.18,215.04 L140.20,214.97 L140.22,214.90 L140.24,214.83 L140.26,214.76 L140.29,214.69 L140.31,214.62 L140.33,214.55 L140.35,214.48 L140.37,214.41 L140.40,214.34 L140.42,214.27 L140.44,214.20 L140.46,214.13 L140.49,214.06 L140.51,213.99 L140.53,213.91 L140.55,213.84 L140.57,213.77 L140.60,213.70 L140.62,213.62 L140.64,213.55 L140.66,213.48 L140.68,213.40 L140.71,213.33 L140.73,213.25 L140.75,213.18 L140.77,213.10 L140.79,213.03 L140.82,212.95 L140.84,212.88 L140.86,212.80 L140.88,212.72 L140.90,212.65 L140.93,212.57 L140.95,212.49 L140.97,212.42 L140.99,212.34 L141.01,212.26 L141.04,212.18 L141.06,212.10 L141.08,212.03 L141.10,211.95 L141.12,211.87 L141.15,211.79 L141.17,211.71 L141.19,211.63 L141.21,211.55 L141.24,211.47 L141.26,211.38 L141.28,211.30 L141.30,211.22 L141.32,211.14 L141.35,211.06 L141.37,210.97 L141.39,210.89 L141.41,210.81 L141.43,210.72 L141.46,210.64 L141.48,210.56 L141.50,210.47 L141.52,210.39 L141.54,210.30 L141.57,210.21 L141.59,210.13 L141.61,210.04 L141.63,209.96 L141.65,209.87 L141.68,209.78 L141.70,209.69 L141.72,209.60 L141.74,209.52 L141.76,209.43 L141.79,209.34 L141.81,209.25 L141.83,209.16 L141.85,209.07 L141.87,208.98 L141.90,208.89 L141.92,208.80 L141.94,208.70 L141.96,208.61 L141.98,208.52 L142.01,208.43 L142.03,208.33 L142.05,208.24 L142.07,208.15 L142.10,208.05 L142.12,207.96 L142.14,207.86 L142.16,207.77 L142.18,207.67 L142.21,207.57 L142.23,207.48 L142.25,207.38 L142.27,207.28 L142.29,207.18 L142.32,207.08 L142.34,206.99 L142.36,206.89 L142.38,206.79 L142.40,206.69 L142.43,206.59 L142.45,206.48 L142.47,206.38 L142.49,206.28 L142.51,206.18 L142.54,206.08 L142.56,205.97 L142.58,205.87 L142.60,205.76 L142.62,205.66 L142.65,205.55 L142.67,205.45 L142.69,205.34 L142.71,205.24 L142.73,205.13 L142.76,205.02 L142.78,204.91 L142.80,204.80 L142.82,204.70 L142.85,204.59 L142.87,204.48 L142.89,204.37 L142.91,204.25 L142.93,204.14 L142.96,204.03 L142.98,203.92 L143.00,203.80 L143.02,203.69 L143.04,203.58 L143.07,203.46 L143.09,203.35 L143.11,203.23 L143.13,203.11 L143.15,203.00 L143.18,202.88 L143.20,202.76 L143.22,202.64 L143.24,202.52 L143.26,202.40 L143.29,202.28 L143.31,202.16 L143.33,202.04 L143.35,201.92 L143.37,201.79 L143.40,201.67 L143.42,201.55 L143.44,201.42 L143.46,201.30 L143.48,201.17 L143.51,201.04 L143.53,200.92 L143.55,200.79 L143.57,200.66 L143.59,200.53 L143.62,200.40 L143.64,200.27 L143.66,200.14 L143.68,200.01 L143.71,199.87 L143.73,199.74 L143.75,199.61 L143.77,199.47 L143.79,199.34 L143.82,199.20 L143.84,199.06 L143.86,198.93 L143.88,198.79 L143.90,198.65 L143.93,198.51 L143.95,198.37 L143.97,198.23 L143.99,198.08 L144.01,197.94 L144.04,197.80 L144.06,197.65 L144.08,197.51 L144.10,197.36 L144.12,197.21 L144.15,197.06 L144.17,196.92 L144.19,196.77 L144.21,196.62 L144.23,196.46 L144.26,196.31 L144.28,196.16 L144.30,196.01 L144.32,195.85 L144.34,195.69 L144.37,195.54 L144.39,195.38 L144.41,195.22 L144.43,195.06 L144.46,194.90 L144.48,194.74 L144.50,194.58 L144.52,194.42 L144.54,194.25 L144.57,194.09 L144.59,193.92 L144.61,193.75 L144.63,193.58 L144.65,193.41 L144.68,193.24 L144.70,193.07 L144.72,192.90 L144.74,192.73 L144.76,192.55 L144.79,192.38 L144.81,192.20 L144.83,192.02 L144.85,191.84 L144.87,191.66 L144.90,191.48 L144.92,191.30 L144.94,191.11 L144.96,190.93 L144.98,190.74 L145.01,190.55 L145.03,190.37 L145.05,190.18 L145.07,189.98 L145.09,189.79 L145.12,189.60 L145.14,189.40 L145.16,189.21 L145.18,189.01 L145.21,188.81 L145.23,188.61 L145.25,188.41 L145.27,188.20 L145.29,188.00 L145.32,187.79 L145.34,187.58 L145.36,187.38 L145.38,187.16 L145.40,186.95 L145.43,186.74 L145.45,186.52 L145.47,186.31 L145.49,186.09 L145.51,185.87 L145.54,185.65 L145.56,185.42 L145.58,185.20 L145.60,184.97 L145.62,184.74 L145.65,184.51 L145.67,184.28 L145.69,184.05 L145.71,183.81 L145.73,183.58 L145.76,183.34 L145.78,183.10 L145.80,182.85 L145.82,182.61 L145.84,182.36 L145.87,182.11 L145.89,181.86 L145.91,181.61 L145.93,181.35 L145.95,181.10 L145.98,180.84 L146.00,180.58 L146.02,180.31 L146.04,180.05 L146.07,179.78 L146.09,179.51 L146.11,179.24 L146.13,178.97 L146.15,178.69 L146.18,178.41 L146.20,178.13 L146.22,177.84 L146.24,177.56 L146.26,177.27 L146.29,176.98 L146.31,176.68 L146.33,176.39 L146.35,176.09 L146.37,175.78 L146.40,175.48 L146.42,175.17 L146.44,174.86 L146.46,174.55 L146.48,174.23 L146.51,173.91 L146.53,173.59 L146.55,173.26 L146.57,172.94 L146.59,172.60 L146.62,172.27 L146.64,171.93 L146.66,171.59 L146.68,171.24 L146.70,170.90 L146.73,170.54 L146.75,170.19 L146.77,169.83 L146.79,169.47 L146.82,169.10 L146.84,168.73 L146.86,168.36 L146.88,167.98 L146.90,167.60 L146.93,167.21 L146.95,166.82 L146.97,166.42 L146.99,166.02 L147.01,165.62 L147.04,165.21 L147.06,164.80 L147.08,164.38 L147.10,163.96 L147.12,163.54 L147.15,163.10 L147.17,162.67 L147.19,162.23 L147.21,161.78 L147.23,161.33 L147.26,160.87 L147.28,160.41 L147.30,159.94 L147.32,159.46 L147.34,158.98 L147.37,158.50 L147.39,158.00 L147.41,157.51 L147.43,157.00 L147.45,156.49 L147.48,155.97 L147.50,155.45 L147.52,154.91 L147.54,154.38 L147.56,153.83 L147.59,153.28 L147.61,152.71 L147.63,152.15 L147.65,151.57 L147.68,150.98 L147.70,150.39 L147.72,149.79 L147.74,149.18 L147.76,148.56 L147.79,147.93 L147.81,147.29 L147.83,146.64 L147.85,145.98 L147.87,145.32 L147.90,144.64 L147.92,143.95 L147.94,143.25 L147.96,142.54 L147.98,141.81 L148.01,141.08 L148.03,140.33 L148.05,139.57 L148.07,138.80 L148.09,138.02 L148.12,137.22 L148.14,136.40 L148.16,135.58 L148.18,134.73 L148.20,133.88 L148.23,133.00 L148.25,132.11 L148.27,131.20 L148.29,130.28 L148.31,129.34 L148.34,128.38 L148.36,127.40 L148.38,126.40 L148.40,125.38 L148.43,124.34 L148.45,123.27 L148.47,122.19 L148.49,121.08 L148.51,119.94 L148.54,118.78 L148.56,117.60 L148.58,116.39 L148.60,115.15 L148.62,113.88 L148.65,112.58 L148.67,111.24 L148.69,109.88 L148.71,108.48 L148.73,107.04 L148.76,105.57 L148.78,104.05 L148.80,102.50" fill="none" stroke="#757575" stroke-width="2.4" stroke-dasharray="2.05 1.3"/>
<path d="M148.80,102.80 L148.87,102.90 L148.95,103.01 L149.02,103.11 L149.09,103.22 L149.16,103.32 L149.24,103.43 L149.31,103.53 L149.38,103.64 L149.45,103.75 L149.52,103.85 L149.60,103.96 L149.67,104.06 L149.74,104.17 L149.81,104.27 L149.88,104.38 L149.95,104.48 L150.03,104.59 L150.10,104.69 L150.17,104.80 L150.24,104.91 L150.31,105.01 L150.38,105.12 L150.45,105.22 L150.53,105.33 L150.60,105.44 L150.67,105.54 L150.74,105.65 L150.81,105.75 L150.88,105.86 L150.95,105.97 L151.02,106.07 L151.09,106.18 L151.16,106.28 L151.23,106.39 L151.30,106.50 L151.37,106.60 L151.44,106.71 L151.51,106.82 L151.58,106.92 L151.65,107.03 L151.72,107.14 L151.79,107.24 L151.86,107.35 L151.93,107.46 L152.00,107.56 L152.07,107.67 L152.14,107.78 L152.21,107.88 L152.28,107.99 L152.35,108.10 L152.42,108.20 L152.49,108.31 L152.56,108.42 L152.63,108.52 L152.70,108.63 L152.77,108.74 L152.84,108.85 L152.91,108.95 L152.98,109.06 L153.05,109.17 L153.12,109.27 L153.18,109.38 L153.25,109.49 L153.32,109.60 L153.39,109.70 L153.46,109.81 L153.53,109.92 L153.60,110.03 L153.67,110.13 L153.74,110.24 L153.81,110.35 L153.87,110.45 L153.94,110.56 L154.01,110.67 L154.08,110.78 L154.15,110.88 L154.22,110.99 L154.29,111.10 L154.35,111.21 L154.42,111.31 L154.49,111.42 L154.56,111.53 L154.63,111.64 L154.70,111.74 L154.77,111.85 L154.83,111.96 L154.90,112.07 L154.97,112.18 L155.04,112.28 L155.11,112.39 L155.18,112.50 L155.24,112.61 L155.31,112.71 L155.38,112.82 L155.45,112.93 L155.52,113.04 L155.59,113.15 L155.65,113.25 L155.72,113.36 L155.79,113.47 L155.86,113.58 L155.93,113.68 L155.99,113.79 L156.06,113.90 L156.13,114.01 L156.20,114.12 L156.27,114.22 L156.34,114.33 L156.40,114.44 L156.47,114.55 L156.54,114.65 L156.61,114.76 L156.68,114.87 L156.74,114.98 L156.81,115.09 L156.88,115.19 L156.95,115.30 L157.02,115.41 L157.09,115.52 L157.15,115.62 L157.22,115.73 L157.29,115.84 L157.36,115.95 L157.43,116.06 L157.49,116.16 L157.56,116.27 L157.63,116.38 L157.70,116.49 L157.77,116.59 L157.84,116.70 L157.90,116.81 L157.97,116.92 L158.04,117.03 L158.11,117.13 L158.18,117.24 L158.24,117.35 L158.31,117.46 L158.38,117.56 L158.45,117.67 L158.52,117.78 L158.59,117.89 L158.65,118.00 L158.72,118.10 L158.79,118.21 L158.86,118.32 L158.93,118.43 L159.00,118.53 L159.07,118.64 L159.13,118.75 L159.20,118.86 L159.27,118.96 L159.34,119.07 L159.41,119.18 L159.48,119.29 L159.55,119.39 L159.62,119.50 L159.68,119.61 L159.75,119.72 L159.82,119.82 L159.89,119.93 L159.96,120.04 L160.03,120.14 L160.10,120.25 L160.17,120.36 L160.24,120.47 L160.30,120.57 L160.37,120.68 L160.44,120.79 L160.51,120.89 L160.58,121.00 L160.65,121.11 L160.72,121.22 L160.79,121.32 L160.86,121.43 L160.93,121.54 L161.00,121.64 L161.07,121.75 L161.14,121.86 L161.21,121.96 L161.28,122.07 L161.35,122.18 L161.42,122.28 L161.49,122.39 L161.56,122.50 L161.63,122.60 L161.70,122.71 L161.77,122.82 L161.84,122.92 L161.91,123.03 L161.98,123.14 L162.05,123.24 L162.12,123.35 L162.19,123.46 L162.26,123.56 L162.33,123.67 L162.40,123.78 L162.47,123.88 L162.54,123.99 L162.61,124.09 L162.68,124.20 L162.75,124.31 L162.82,124.41 L162.89,124.52 L162.97,124.62 L163.04,124.73 L163.11,124.84 L163.18,124.94 L163.25,125.05 L163.32,125.15 L163.39,125.26 L163.47,125.36 L163.54,125.47 L163.61,125.57 L163.68,125.68 L163.75,125.79 L163.82,125.89 L163.90,126.00 L163.97,126.10 L164.04,126.21 L164.11,126.31 L164.18,126.42 L164.26,126.52 L164.33,126.63 L164.40,126.73 L164.47,126.84 L164.55,126.94 L164.62,127.05 L164.69,127.15 L164.77,127.26 L164.84,127.36 L164.91,127.47 L164.99,127.57 L165.06,127.67 L165.13,127.78 L165.21,127.88 L165.28,127.99 L165.35,128.09 L165.43,128.20 L165.50,128.30 L166.12,129.09 L166.36,129.97 L166.60,130.86 L166.85,131.74 L167.10,132.63 L167.36,133.52 L167.61,134.40 L167.87,135.29 L168.14,136.18 L168.40,137.07 L168.67,137.96 L168.94,138.85 L169.22,139.74 L169.50,140.63 L169.78,141.51 L170.06,142.40 L170.35,143.29 L170.64,144.18 L170.93,145.07 L171.23,145.96 L171.53,146.85 L171.84,147.73 L172.14,148.62 L172.45,149.51 L172.77,150.39 L173.08,151.28 L173.41,152.16 L173.73,153.05 L174.06,153.93 L174.39,154.81 L174.72,155.70 L175.06,156.58 L175.40,157.46 L175.75,158.33 L176.10,159.21 L176.45,160.09 L176.81,160.96 L177.17,161.84 L177.53,162.71 L177.90,163.58 L178.27,164.45 L178.64,165.32 L179.02,166.19 L179.40,167.05 L179.79,167.91 L180.18,168.77 L180.57,169.63 L180.97,170.49 L181.37,171.35 L181.77,172.20 L182.18,173.05 L182.60,173.90 L183.01,174.75 L183.43,175.60 L183.86,176.44 L184.29,177.28 L184.72,178.12 L185.16,178.96 L185.60,179.79 L186.05,180.62 L186.50,181.45 L186.95,182.27 L187.41,183.10 L187.87,183.92 L188.34,184.74 L188.81,185.55 L189.28,186.36 L189.76,187.17 L190.25,187.98 L190.74,188.78 L191.23,189.58 L191.72,190.38 L192.23,191.17 L192.73,191.96 L193.24,192.74 L193.76,193.53 L194.28,194.31 L194.80,195.08 L195.33,195.85 L195.86,196.61 L196.40,197.36 L196.94,198.11 L197.49,198.86 L198.04,199.60 L198.60,200.34 L199.16,201.07 L199.72,201.80 L200.29,202.53 L200.87,203.25 L201.45,203.97 L202.03,204.68 L202.62,205.39 L203.21,206.10 L203.81,206.80 L204.41,207.50 L205.02,208.19 L205.63,208.88 L206.24,209.56 L206.86,210.24 L207.48,210.92 L208.11,211.59 L208.74,212.26 L209.38,212.92 L210.02,213.58 L210.66,214.24 L211.31,214.89 L211.97,215.53 L212.62,216.17 L213.28,216.81 L213.95,217.45 L214.62,218.07 L215.29,218.71 L215.97,219.35 L216.65,219.98 L217.33,220.62 L218.02,221.24 L218.71,221.87 L219.41,222.49 L220.11,223.10 L220.81,223.71 L221.52,224.32 L222.23,224.92 L222.94,225.52 L223.66,226.11 L224.38,226.70 L225.11,227.28 L225.84,227.86 L226.57,228.43 L227.30,229.01 L228.04,229.57 L228.79,230.13 L229.53,230.69 L230.28,231.24 L231.03,231.79 L231.79,232.33 L232.55,232.87 L233.31,233.41 L234.08,233.94 L234.85,234.46 L235.62,234.98 L236.39,235.50 L237.17,236.01 L237.95,236.52 L238.74,237.02 L239.53,237.52 L240.32,238.01 L241.11,238.50 L241.91,238.98 L242.71,239.46 L243.51,239.93 L244.32,240.40 L245.13,240.87 L245.94,241.35 L246.75,241.82 L247.57,242.29 L248.39,242.75 L249.21,243.21 L250.03,243.66 L250.86,244.11 L251.69,244.56 L252.52,245.00 L253.36,245.43 L254.20,245.86 L255.04,246.29 L255.88,246.71 L256.73,247.12 L257.58,247.53 L258.43,247.94 L259.28,248.34 L260.13,248.73 L260.99,249.12 L261.85,249.51 L262.71,249.89 L263.58,250.27 L264.44,250.64 L265.31,251.00 L266.18,251.36 L267.06,251.72 L267.93,252.07 L268.81,252.42 L269.69,252.76 L270.57,253.09 L271.45,253.43 L272.34,253.75 L273.22,254.05 L274.11,254.35 L275.00,254.64 L275.89,254.93 L276.79,255.22 L277.68,255.50 L278.58,255.78 L279.48,256.05 L280.38,256.32 L281.28,256.58 L282.19,256.84 L283.09,257.10 L284.00,257.35 L284.90,257.60 L285.81,257.85 L286.72,258.09 L287.64,258.32 L288.55,258.56 L289.46,258.79 L290.38,259.02 L291.29,259.24 L292.21,259.46 L293.13,259.68 L294.05,259.89 L294.97,260.10 L295.89,260.31 L296.81,260.51 L297.74,260.71 L298.66,260.91 L299.58,261.10 L300.51,261.29 L301.44,261.48 L302.36,261.67 L303.29,261.85 L304.22,262.03 L305.15,262.21 L306.08,262.39 L307.01,262.56 L307.94,262.73 L308.87,262.90 L309.80,263.06 L310.73,263.23 L311.66,263.39 L312.59,263.55 L313.52,263.70 L314.46,263.86 L315.39,264.01 L316.32,264.16 L317.25,264.31 L318.19,264.46 L319.12,264.60 L320.05,264.74 L320.99,264.89 L321.92,265.02 L322.86,265.16 L323.79,265.30 L324.72,265.43 L325.66,265.56 L326.59,265.69 L327.53,265.82 L328.46,265.95 L329.40,266.07 L330.33,266.20 L331.27,266.32 L332.20,266.44 L333.14,266.56 L334.07,266.67 L335.01,266.79 L335.94,266.90 L336.88,267.02 L337.81,267.13 L338.75,267.24 L339.68,267.35 L340.62,267.46 L341.55,267.56 L342.49,267.67 L343.43,267.77 L344.36,267.88 L345.30,267.98 L346.23,268.08 L347.17,268.18 L348.10,268.28 L349.04,268.38 L349.97,268.47 L350.91,268.57 L351.84,268.66 L352.77,268.76 L353.71,268.85 L354.64,268.94 L355.58,269.04 L356.51,269.13 L357.45,269.22 L358.38,269.30 L359.31,269.39 L360.25,269.48 L361.18,269.57 L362.12,269.65 L363.05,269.74 L363.98,269.82 L364.92,269.90 L365.85,269.98 L366.78,270.06 L367.72,270.14 L368.65,270.22 L369.58,270.30 L370.52,270.38 L371.45,270.46 L372.38,270.53 L373.32,270.61 L374.25,270.68 L375.18,270.75 L376.12,270.82 L377.05,270.89 L377.98,270.95 L378.92,271.02 L379.85,271.08 L380.78,271.14 L381.72,271.20 L382.65,271.26 L383.58,271.32 L384.52,271.38 L385.45,271.44 L386.38,271.50 L387.31,271.56 L388.25,271.61 L389.18,271.67 L390.11,271.72 L391.05,271.78 L391.98,271.83 L392.91,271.88 L393.85,271.94 L394.78,271.99 L395.71,272.04 L396.65,272.09 L397.58,272.14 L398.51,272.19 L399.45,272.23 L400.38,272.28 L401.32,272.33 L402.25,272.37 L403.18,272.42 L404.12,272.46 L405.05,272.51 L405.98,272.55 L406.92,272.59 L407.85,272.63 L408.79,272.67 L409.72,272.71 L410.66,272.75 L411.59,272.79 L412.52,272.83 L413.46,272.87 L414.39,272.91 L415.33,272.94 L416.26,272.98 L417.20,273.01 L418.13,273.05 L419.07,273.08 L420.00,273.11 L420.94,273.15 L421.87,273.19 L422.81,273.23 L423.75,273.27 L424.68,273.30 L425.62,273.34 L426.55,273.38 L427.49,273.41 L428.43,273.45 L429.36,273.48 L430.30,273.51 L431.24,273.54 L432.17,273.58 L433.11,273.61 L434.05,273.64 L434.99,273.67 L435.92,273.70 L436.86,273.73 L437.80,273.76 L438.74,273.79 L439.67,273.82 L440.61,273.84 L441.55,273.87 L442.49,273.90 L443.43,273.92 L444.37,273.95 L445.31,273.97 L446.25,274.00 L447.19,274.02 L448.13,274.04 L449.07,274.07 L450.01,274.09 L450.95,274.11 L451.89,274.13 L452.83,274.15 L453.77,274.18 L454.71,274.20 L455.65,274.22 L456.59,274.24 L457.53,274.25 L458.48,274.27 L459.42,274.29 L460.36,274.31 L461.30,274.33 L462.25,274.34 L463.19,274.36 L464.13,274.38 L465.08,274.39 L466.02,274.41 L466.97,274.42 L467.91,274.44 L468.85,274.45 L469.80,274.46 L470.74,274.48 L471.69,274.49 L472.64,274.50" fill="none" stroke="#a05f20" stroke-width="2.4" stroke-dasharray="2.05 1.3"/>
<path d="M148.9,1.55V276.2" stroke="#999" stroke-width="1.3"/>
<path d="M165.3,1.55V276.2" stroke="#999" stroke-width="1.3"/>
<g font-family="Liberation Serif, serif">
<text x="33.90" y="30.20" font-size="15.8" fill="#000" text-anchor="end">1.</text>
<text x="33.90" y="80.20" font-size="15.8" fill="#000" text-anchor="end">0.8</text>
<text x="33.90" y="130.20" font-size="15.8" fill="#000" text-anchor="end">0.6</text>
<text x="33.90" y="180.20" font-size="15.8" fill="#000" text-anchor="end">0.4</text>
<text x="33.90" y="230.20" font-size="15.8" fill="#000" text-anchor="end">0.2</text>
<text x="33.90" y="280.20" font-size="15.8" fill="#000" text-anchor="end">0.</text>
<text x="85.10" y="292.20" font-size="15.6" fill="#000" text-anchor="start">10<tspan dx="-0.5" dy="-6.2" font-size="10.2" letter-spacing="-0.6">10</tspan></text>
<text x="160.07" y="292.20" font-size="15.6" fill="#000" text-anchor="start">10<tspan dx="-0.5" dy="-6.2" font-size="10.2" letter-spacing="-0.6">20</tspan></text>
<text x="235.04" y="292.20" font-size="15.6" fill="#000" text-anchor="start">10<tspan dx="-0.5" dy="-6.2" font-size="10.2" letter-spacing="-0.6">30</tspan></text>
<text x="310.01" y="292.20" font-size="15.6" fill="#000" text-anchor="start">10<tspan dx="-0.5" dy="-6.2" font-size="10.2" letter-spacing="-0.6">40</tspan></text>
<text x="384.98" y="292.20" font-size="15.6" fill="#000" text-anchor="start">10<tspan dx="-0.5" dy="-6.2" font-size="10.2" letter-spacing="-0.6">50</tspan></text>
<text x="459.95" y="292.20" font-size="15.6" fill="#000" text-anchor="start">10<tspan dx="-0.5" dy="-6.2" font-size="10.2" letter-spacing="-0.6">60</tspan></text>
<text x="235.00" y="315.40" font-size="15.2" fill="#000" text-anchor="start"><tspan font-style="italic">μ</tspan><tspan dx="0.7">[GeV]</tspan></text>
<text x="107.50" y="41.60" font-size="14.6" fill="#000" text-anchor="start"><tspan font-style="italic">M</tspan><tspan dy="3.5" font-size="9.9">GUT</tspan></text>
<text x="174.80" y="41.60" font-size="14.6" fill="#000" text-anchor="start"><tspan font-style="italic">M</tspan><tspan dy="3.5" font-size="9.9">Pl</tspan></text>
<text x="385.00" y="42.20" font-size="15.4" fill="#000" text-anchor="start"><tspan font-style="italic">f</tspan><tspan dx="1.8" dy="2.8" font-size="9.9" font-style="italic">g</tspan></text>
<text x="401.30" y="43.40" font-size="15.8" fill="#000" text-anchor="start">=</text>
<text x="414.50" y="42.20" font-size="15.4" fill="#000" text-anchor="start">0.05</text>
<text x="386.20" y="66.90" font-size="15.4" fill="#000" text-anchor="start"><tspan font-style="italic">f</tspan><tspan dx="1.8" dy="2.8" font-size="9.9" font-style="italic">y</tspan></text>
<text x="402.30" y="68.10" font-size="15.8" fill="#000" text-anchor="start">=</text>
<text x="415.30" y="66.90" font-size="15.4" fill="#000" text-anchor="start">0.016</text>
<text x="74.60" y="32.40" font-size="14.6" fill="#c0104a" text-anchor="start"><tspan font-style="italic">y</tspan><tspan dy="2.8" font-size="9.6" font-style="italic">D</tspan></text>
<text x="55.40" y="49.60" font-size="14.6" fill="#ffb2b2" text-anchor="start"><tspan font-style="italic">g</tspan><tspan dy="2.8" font-size="10.3">3</tspan></text>
<text x="128.90" y="83.00" font-size="14.6" fill="#ff0000" text-anchor="start"><tspan font-style="italic">ŷ</tspan><tspan dy="2.8" font-size="10.3"><tspan font-style="italic">ν</tspan>1</tspan></text>
<text x="48.80" y="101.20" font-size="14.6" fill="#ff8000" text-anchor="start"><tspan font-style="italic">y</tspan><tspan dy="2.8" font-size="9.6" font-style="italic">L</tspan></text>
<text x="70.00" y="107.20" font-size="14.6" fill="#00e5ff" text-anchor="start"><tspan font-style="italic">g</tspan><tspan dy="2.8" font-size="10.3">2</tspan></text>
<text x="74.50" y="164.80" font-size="14.6" fill="#bdbdbd" text-anchor="start"><tspan font-style="italic">g</tspan><tspan dy="2.8" font-size="10.3">1</tspan></text>
<text x="46.40" y="177.70" font-size="14.6" fill="#ff00ff" text-anchor="start"><tspan font-style="italic">ŷ</tspan><tspan dy="2.8" font-size="10.3"><tspan font-style="italic">ν</tspan>2</tspan></text>
<text x="64.90" y="239.10" font-size="14.6" fill="#888" text-anchor="start"><tspan font-style="italic">g</tspan><tspan dy="2.8" font-size="9.6" font-style="italic">X</tspan></text>
<text x="131.50" y="173.60" font-size="14.6" fill="#0000ff" text-anchor="start"><tspan font-style="italic">y</tspan><tspan dy="2.8" font-size="9.6" font-style="italic">u</tspan></text>
<text x="252.70" y="230.60" font-size="14.6" fill="#0000ff" text-anchor="start"><tspan font-style="italic">y</tspan><tspan dy="2.8" font-size="9.6" font-style="italic">u</tspan></text>
<text x="251.00" y="169.60" font-size="14.6" fill="#ff8000" text-anchor="start"><tspan font-style="italic">y</tspan><tspan dy="2.8" font-size="10.3">22</tspan></text>
<text x="383.80" y="169.80" font-size="14.6" fill="#ff0000" text-anchor="start"><tspan font-style="italic">ŷ</tspan><tspan dy="2.8" font-size="10.3">11</tspan></text>
<text x="383.80" y="208.50" font-size="14.6" fill="#ff00ff" text-anchor="start"><tspan font-style="italic">ŷ</tspan><tspan dy="2.8" font-size="10.3">22</tspan></text>
<text x="341.00" y="260.60" font-size="14.6" fill="#c08044" text-anchor="start"><tspan font-style="italic">g</tspan><tspan dy="2.8" font-size="10.3">6</tspan></text>
</g>
</svg>
</body></html>
